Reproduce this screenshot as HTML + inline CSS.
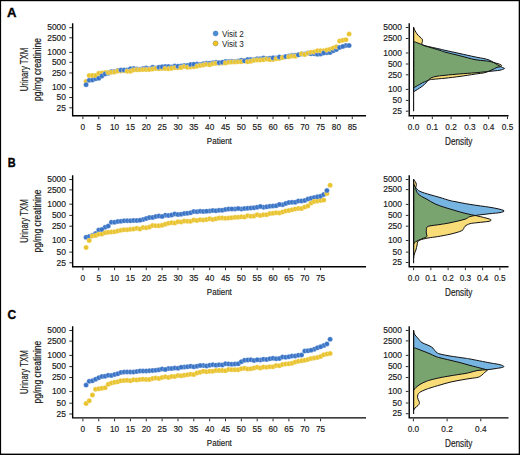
<!DOCTYPE html><html><head><meta charset="utf-8"><title>Urinary TXM</title><style>html,body{margin:0;padding:0;background:#fff;overflow:hidden}svg{display:block}</style></head><body>
<svg width="520" height="455" viewBox="0 0 520 455">
<rect x="0" y="0" width="520" height="455" fill="#fff"/>
<text transform="translate(7 16.6) scale(0.98 1)" style="font-family:'Liberation Sans', sans-serif;font-weight:bold;font-size:13.4px;fill:#000;stroke:#000;stroke-width:0.35">A</text>
<path d="M72.65 23.3 V115.7 H366" fill="none" stroke="#000" stroke-width="1.4"/>
<path d="M69.3 27.7H72 M69.3 37.8H72 M69.3 52.4H72 M69.3 62.3H72 M69.3 72.9H72 M69.3 87.6H72 M69.3 97.5H72 M69.3 107.8H72 M82.9 116.4V119.1 M98.75 116.4V119.1 M114.59 116.4V119.1 M130.44 116.4V119.1 M146.28 116.4V119.1 M162.12 116.4V119.1 M177.97 116.4V119.1 M193.81 116.4V119.1 M209.66 116.4V119.1 M225.5 116.4V119.1 M241.35 116.4V119.1 M257.2 116.4V119.1 M273.04 116.4V119.1 M288.88 116.4V119.1 M304.73 116.4V119.1 M320.58 116.4V119.1 M336.42 116.4V119.1 M352.26 116.4V119.1" stroke="#2a2a2a" stroke-width="1" fill="none"/>
<text transform="translate(66 30.45) scale(0.890 1)" text-anchor="end" style="font-family:'Liberation Sans', sans-serif;font-size:9.5px;fill:#1a1a1a;font-weight:normal;stroke:#1a1a1a;stroke-width:0.18px" >5000</text><text transform="translate(66 40.55) scale(0.890 1)" text-anchor="end" style="font-family:'Liberation Sans', sans-serif;font-size:9.5px;fill:#1a1a1a;font-weight:normal;stroke:#1a1a1a;stroke-width:0.18px" >2500</text><text transform="translate(66 55.15) scale(0.890 1)" text-anchor="end" style="font-family:'Liberation Sans', sans-serif;font-size:9.5px;fill:#1a1a1a;font-weight:normal;stroke:#1a1a1a;stroke-width:0.18px" >1000</text><text transform="translate(66 65.05) scale(0.890 1)" text-anchor="end" style="font-family:'Liberation Sans', sans-serif;font-size:9.5px;fill:#1a1a1a;font-weight:normal;stroke:#1a1a1a;stroke-width:0.18px" >500</text><text transform="translate(66 75.65) scale(0.890 1)" text-anchor="end" style="font-family:'Liberation Sans', sans-serif;font-size:9.5px;fill:#1a1a1a;font-weight:normal;stroke:#1a1a1a;stroke-width:0.18px" >250</text><text transform="translate(66 90.35) scale(0.890 1)" text-anchor="end" style="font-family:'Liberation Sans', sans-serif;font-size:9.5px;fill:#1a1a1a;font-weight:normal;stroke:#1a1a1a;stroke-width:0.18px" >100</text><text transform="translate(66 100.25) scale(0.890 1)" text-anchor="end" style="font-family:'Liberation Sans', sans-serif;font-size:9.5px;fill:#1a1a1a;font-weight:normal;stroke:#1a1a1a;stroke-width:0.18px" >50</text><text transform="translate(66 110.55) scale(0.890 1)" text-anchor="end" style="font-family:'Liberation Sans', sans-serif;font-size:9.5px;fill:#1a1a1a;font-weight:normal;stroke:#1a1a1a;stroke-width:0.18px" >25</text><text transform="translate(82.9 129.5) scale(0.870 1)" text-anchor="middle" style="font-family:'Liberation Sans', sans-serif;font-size:9.5px;fill:#1a1a1a;font-weight:normal;stroke:#1a1a1a;stroke-width:0.18px" >0</text><text transform="translate(98.75 129.5) scale(0.870 1)" text-anchor="middle" style="font-family:'Liberation Sans', sans-serif;font-size:9.5px;fill:#1a1a1a;font-weight:normal;stroke:#1a1a1a;stroke-width:0.18px" >5</text><text transform="translate(114.59 129.5) scale(0.870 1)" text-anchor="middle" style="font-family:'Liberation Sans', sans-serif;font-size:9.5px;fill:#1a1a1a;font-weight:normal;stroke:#1a1a1a;stroke-width:0.18px" >10</text><text transform="translate(130.44 129.5) scale(0.870 1)" text-anchor="middle" style="font-family:'Liberation Sans', sans-serif;font-size:9.5px;fill:#1a1a1a;font-weight:normal;stroke:#1a1a1a;stroke-width:0.18px" >15</text><text transform="translate(146.28 129.5) scale(0.870 1)" text-anchor="middle" style="font-family:'Liberation Sans', sans-serif;font-size:9.5px;fill:#1a1a1a;font-weight:normal;stroke:#1a1a1a;stroke-width:0.18px" >20</text><text transform="translate(162.12 129.5) scale(0.870 1)" text-anchor="middle" style="font-family:'Liberation Sans', sans-serif;font-size:9.5px;fill:#1a1a1a;font-weight:normal;stroke:#1a1a1a;stroke-width:0.18px" >25</text><text transform="translate(177.97 129.5) scale(0.870 1)" text-anchor="middle" style="font-family:'Liberation Sans', sans-serif;font-size:9.5px;fill:#1a1a1a;font-weight:normal;stroke:#1a1a1a;stroke-width:0.18px" >30</text><text transform="translate(193.81 129.5) scale(0.870 1)" text-anchor="middle" style="font-family:'Liberation Sans', sans-serif;font-size:9.5px;fill:#1a1a1a;font-weight:normal;stroke:#1a1a1a;stroke-width:0.18px" >35</text><text transform="translate(209.66 129.5) scale(0.870 1)" text-anchor="middle" style="font-family:'Liberation Sans', sans-serif;font-size:9.5px;fill:#1a1a1a;font-weight:normal;stroke:#1a1a1a;stroke-width:0.18px" >40</text><text transform="translate(225.5 129.5) scale(0.870 1)" text-anchor="middle" style="font-family:'Liberation Sans', sans-serif;font-size:9.5px;fill:#1a1a1a;font-weight:normal;stroke:#1a1a1a;stroke-width:0.18px" >45</text><text transform="translate(241.35 129.5) scale(0.870 1)" text-anchor="middle" style="font-family:'Liberation Sans', sans-serif;font-size:9.5px;fill:#1a1a1a;font-weight:normal;stroke:#1a1a1a;stroke-width:0.18px" >50</text><text transform="translate(257.2 129.5) scale(0.870 1)" text-anchor="middle" style="font-family:'Liberation Sans', sans-serif;font-size:9.5px;fill:#1a1a1a;font-weight:normal;stroke:#1a1a1a;stroke-width:0.18px" >55</text><text transform="translate(273.04 129.5) scale(0.870 1)" text-anchor="middle" style="font-family:'Liberation Sans', sans-serif;font-size:9.5px;fill:#1a1a1a;font-weight:normal;stroke:#1a1a1a;stroke-width:0.18px" >60</text><text transform="translate(288.88 129.5) scale(0.870 1)" text-anchor="middle" style="font-family:'Liberation Sans', sans-serif;font-size:9.5px;fill:#1a1a1a;font-weight:normal;stroke:#1a1a1a;stroke-width:0.18px" >65</text><text transform="translate(304.73 129.5) scale(0.870 1)" text-anchor="middle" style="font-family:'Liberation Sans', sans-serif;font-size:9.5px;fill:#1a1a1a;font-weight:normal;stroke:#1a1a1a;stroke-width:0.18px" >70</text><text transform="translate(320.58 129.5) scale(0.870 1)" text-anchor="middle" style="font-family:'Liberation Sans', sans-serif;font-size:9.5px;fill:#1a1a1a;font-weight:normal;stroke:#1a1a1a;stroke-width:0.18px" >75</text><text transform="translate(336.42 129.5) scale(0.870 1)" text-anchor="middle" style="font-family:'Liberation Sans', sans-serif;font-size:9.5px;fill:#1a1a1a;font-weight:normal;stroke:#1a1a1a;stroke-width:0.18px" >80</text><text transform="translate(352.26 129.5) scale(0.870 1)" text-anchor="middle" style="font-family:'Liberation Sans', sans-serif;font-size:9.5px;fill:#1a1a1a;font-weight:normal;stroke:#1a1a1a;stroke-width:0.18px" >85</text>
<text transform="translate(219.35 143.7) scale(0.810 1)" text-anchor="middle" style="font-family:'Liberation Sans', sans-serif;font-size:9.9px;fill:#1a1a1a;font-weight:normal;stroke:#1a1a1a;stroke-width:0.18px" >Patient</text>
<g transform="translate(28.2 69.5) rotate(-90)"><text transform="translate(0 0) scale(0.765 1)" text-anchor="middle" style="font-family:'Liberation Sans', sans-serif;font-size:10.2px;fill:#1a1a1a;font-weight:normal;stroke:#1a1a1a;stroke-width:0.18px" >Urinary TXM</text></g>
<g transform="translate(41.4 69.5) rotate(-90)"><text transform="translate(0 0) scale(0.835 1)" text-anchor="middle" style="font-family:'Liberation Sans', sans-serif;font-size:10.2px;fill:#1a1a1a;font-weight:normal;stroke:#1a1a1a;stroke-width:0.18px" >pg/mg creatinine</text></g>
<g stroke="#fff" stroke-opacity="0.5" stroke-width="0.5"><circle cx="86.07" cy="81.46" r="2.5" fill="#e9c32e"/><circle cx="86.07" cy="84.65" r="2.5" fill="#3a74c6"/><circle cx="89.24" cy="80.19" r="2.5" fill="#3a74c6"/><circle cx="89.24" cy="75.52" r="2.5" fill="#e9c32e"/><circle cx="92.41" cy="79.96" r="2.5" fill="#3a74c6"/><circle cx="92.41" cy="75.4" r="2.5" fill="#e9c32e"/><circle cx="95.58" cy="78.68" r="2.5" fill="#3a74c6"/><circle cx="95.58" cy="75.56" r="2.5" fill="#e9c32e"/><circle cx="98.75" cy="78.22" r="2.5" fill="#3a74c6"/><circle cx="98.75" cy="73.33" r="2.5" fill="#e9c32e"/><circle cx="101.91" cy="72.95" r="2.5" fill="#e9c32e"/><circle cx="101.91" cy="75.96" r="2.5" fill="#3a74c6"/><circle cx="105.08" cy="72.52" r="2.5" fill="#e9c32e"/><circle cx="105.08" cy="74.12" r="2.5" fill="#3a74c6"/><circle cx="108.25" cy="73.23" r="2.5" fill="#3a74c6"/><circle cx="108.25" cy="72.53" r="2.5" fill="#e9c32e"/><circle cx="111.42" cy="71.57" r="2.5" fill="#3a74c6"/><circle cx="111.42" cy="72.13" r="2.5" fill="#e9c32e"/><circle cx="114.59" cy="71.58" r="2.5" fill="#3a74c6"/><circle cx="114.59" cy="72" r="2.5" fill="#e9c32e"/><circle cx="117.76" cy="70.6" r="2.5" fill="#3a74c6"/><circle cx="117.76" cy="71.05" r="2.5" fill="#e9c32e"/><circle cx="120.93" cy="71.03" r="2.5" fill="#e9c32e"/><circle cx="120.93" cy="70.12" r="2.5" fill="#3a74c6"/><circle cx="124.1" cy="70.77" r="2.5" fill="#e9c32e"/><circle cx="124.1" cy="70.05" r="2.5" fill="#3a74c6"/><circle cx="127.27" cy="70.06" r="2.5" fill="#3a74c6"/><circle cx="127.27" cy="71.26" r="2.5" fill="#e9c32e"/><circle cx="130.44" cy="68.68" r="2.5" fill="#3a74c6"/><circle cx="130.44" cy="71.17" r="2.5" fill="#e9c32e"/><circle cx="133.6" cy="68.62" r="2.5" fill="#3a74c6"/><circle cx="133.6" cy="69.93" r="2.5" fill="#e9c32e"/><circle cx="136.77" cy="68.96" r="2.5" fill="#3a74c6"/><circle cx="136.77" cy="69.77" r="2.5" fill="#e9c32e"/><circle cx="139.94" cy="69.19" r="2.5" fill="#3a74c6"/><circle cx="139.94" cy="69.66" r="2.5" fill="#e9c32e"/><circle cx="143.11" cy="68.51" r="2.5" fill="#3a74c6"/><circle cx="143.11" cy="69.47" r="2.5" fill="#e9c32e"/><circle cx="146.28" cy="68.09" r="2.5" fill="#3a74c6"/><circle cx="146.28" cy="69.6" r="2.5" fill="#e9c32e"/><circle cx="149.45" cy="68.65" r="2.5" fill="#3a74c6"/><circle cx="149.45" cy="69.55" r="2.5" fill="#e9c32e"/><circle cx="152.62" cy="67.25" r="2.5" fill="#3a74c6"/><circle cx="152.62" cy="68.93" r="2.5" fill="#e9c32e"/><circle cx="155.79" cy="68.12" r="2.5" fill="#3a74c6"/><circle cx="155.79" cy="68.41" r="2.5" fill="#e9c32e"/><circle cx="158.96" cy="68.76" r="2.5" fill="#e9c32e"/><circle cx="158.96" cy="67.19" r="2.5" fill="#3a74c6"/><circle cx="162.12" cy="68.47" r="2.5" fill="#e9c32e"/><circle cx="162.12" cy="66.78" r="2.5" fill="#3a74c6"/><circle cx="165.29" cy="66.51" r="2.5" fill="#3a74c6"/><circle cx="165.29" cy="68.5" r="2.5" fill="#e9c32e"/><circle cx="168.46" cy="66.53" r="2.5" fill="#3a74c6"/><circle cx="168.46" cy="68.77" r="2.5" fill="#e9c32e"/><circle cx="171.63" cy="66.96" r="2.5" fill="#3a74c6"/><circle cx="171.63" cy="68.19" r="2.5" fill="#e9c32e"/><circle cx="174.8" cy="65.9" r="2.5" fill="#3a74c6"/><circle cx="174.8" cy="67.73" r="2.5" fill="#e9c32e"/><circle cx="177.97" cy="67.64" r="2.5" fill="#e9c32e"/><circle cx="177.97" cy="66.19" r="2.5" fill="#3a74c6"/><circle cx="181.14" cy="66.03" r="2.5" fill="#3a74c6"/><circle cx="181.14" cy="67.48" r="2.5" fill="#e9c32e"/><circle cx="184.31" cy="65.45" r="2.5" fill="#3a74c6"/><circle cx="184.31" cy="66.44" r="2.5" fill="#e9c32e"/><circle cx="187.48" cy="65.45" r="2.5" fill="#3a74c6"/><circle cx="187.48" cy="67.3" r="2.5" fill="#e9c32e"/><circle cx="190.65" cy="66.9" r="2.5" fill="#e9c32e"/><circle cx="190.65" cy="64.56" r="2.5" fill="#3a74c6"/><circle cx="193.81" cy="66.69" r="2.5" fill="#e9c32e"/><circle cx="196.98" cy="64.09" r="2.5" fill="#3a74c6"/><circle cx="193.81" cy="64.23" r="2.5" fill="#3a74c6"/><circle cx="196.98" cy="66.26" r="2.5" fill="#e9c32e"/><circle cx="200.15" cy="64.38" r="2.5" fill="#3a74c6"/><circle cx="200.15" cy="65.4" r="2.5" fill="#e9c32e"/><circle cx="203.32" cy="63.72" r="2.5" fill="#3a74c6"/><circle cx="203.32" cy="65.08" r="2.5" fill="#e9c32e"/><circle cx="206.49" cy="63.24" r="2.5" fill="#3a74c6"/><circle cx="206.49" cy="64.37" r="2.5" fill="#e9c32e"/><circle cx="209.66" cy="63.27" r="2.5" fill="#3a74c6"/><circle cx="209.66" cy="64.73" r="2.5" fill="#e9c32e"/><circle cx="212.83" cy="62.76" r="2.5" fill="#3a74c6"/><circle cx="212.83" cy="63.66" r="2.5" fill="#e9c32e"/><circle cx="216" cy="62.26" r="2.5" fill="#3a74c6"/><circle cx="216" cy="63.36" r="2.5" fill="#e9c32e"/><circle cx="219.17" cy="63.29" r="2.5" fill="#e9c32e"/><circle cx="219.17" cy="62.65" r="2.5" fill="#3a74c6"/><circle cx="222.34" cy="62.97" r="2.5" fill="#e9c32e"/><circle cx="225.5" cy="61.43" r="2.5" fill="#3a74c6"/><circle cx="222.34" cy="62.27" r="2.5" fill="#3a74c6"/><circle cx="225.5" cy="62.95" r="2.5" fill="#e9c32e"/><circle cx="228.67" cy="61.6" r="2.5" fill="#3a74c6"/><circle cx="228.67" cy="62.32" r="2.5" fill="#e9c32e"/><circle cx="231.84" cy="61.29" r="2.5" fill="#3a74c6"/><circle cx="231.84" cy="62" r="2.5" fill="#e9c32e"/><circle cx="235.01" cy="61.49" r="2.5" fill="#3a74c6"/><circle cx="235.01" cy="61.95" r="2.5" fill="#e9c32e"/><circle cx="238.18" cy="61.04" r="2.5" fill="#3a74c6"/><circle cx="238.18" cy="61.63" r="2.5" fill="#e9c32e"/><circle cx="241.35" cy="60.22" r="2.5" fill="#3a74c6"/><circle cx="241.35" cy="61.71" r="2.5" fill="#e9c32e"/><circle cx="244.52" cy="61.02" r="2.5" fill="#e9c32e"/><circle cx="244.52" cy="60.86" r="2.5" fill="#3a74c6"/><circle cx="247.69" cy="59.47" r="2.5" fill="#3a74c6"/><circle cx="247.69" cy="61.83" r="2.5" fill="#e9c32e"/><circle cx="250.86" cy="59.58" r="2.5" fill="#3a74c6"/><circle cx="250.86" cy="61.19" r="2.5" fill="#e9c32e"/><circle cx="254.03" cy="59.74" r="2.5" fill="#3a74c6"/><circle cx="254.03" cy="60.28" r="2.5" fill="#e9c32e"/><circle cx="257.2" cy="58.67" r="2.5" fill="#3a74c6"/><circle cx="257.2" cy="60.11" r="2.5" fill="#e9c32e"/><circle cx="260.36" cy="58.83" r="2.5" fill="#3a74c6"/><circle cx="260.36" cy="59.93" r="2.5" fill="#e9c32e"/><circle cx="263.53" cy="57.97" r="2.5" fill="#3a74c6"/><circle cx="263.53" cy="59.64" r="2.5" fill="#e9c32e"/><circle cx="266.7" cy="58.51" r="2.5" fill="#3a74c6"/><circle cx="266.7" cy="59.03" r="2.5" fill="#e9c32e"/><circle cx="269.87" cy="58.36" r="2.5" fill="#3a74c6"/><circle cx="269.87" cy="59.67" r="2.5" fill="#e9c32e"/><circle cx="273.04" cy="59.59" r="2.5" fill="#e9c32e"/><circle cx="276.21" cy="57.97" r="2.5" fill="#3a74c6"/><circle cx="273.04" cy="57.84" r="2.5" fill="#3a74c6"/><circle cx="276.21" cy="58.64" r="2.5" fill="#e9c32e"/><circle cx="279.38" cy="58.4" r="2.5" fill="#e9c32e"/><circle cx="282.55" cy="57.16" r="2.5" fill="#3a74c6"/><circle cx="279.38" cy="56.98" r="2.5" fill="#3a74c6"/><circle cx="282.55" cy="57.56" r="2.5" fill="#e9c32e"/><circle cx="285.72" cy="56.98" r="2.5" fill="#e9c32e"/><circle cx="285.72" cy="56.5" r="2.5" fill="#3a74c6"/><circle cx="288.88" cy="55.96" r="2.5" fill="#3a74c6"/><circle cx="288.88" cy="56.69" r="2.5" fill="#e9c32e"/><circle cx="292.05" cy="55.27" r="2.5" fill="#3a74c6"/><circle cx="292.05" cy="56" r="2.5" fill="#e9c32e"/><circle cx="295.22" cy="55.24" r="2.5" fill="#3a74c6"/><circle cx="295.22" cy="56.13" r="2.5" fill="#e9c32e"/><circle cx="298.39" cy="54.66" r="2.5" fill="#e9c32e"/><circle cx="298.39" cy="54.85" r="2.5" fill="#3a74c6"/><circle cx="301.56" cy="53.9" r="2.5" fill="#3a74c6"/><circle cx="301.56" cy="53.87" r="2.5" fill="#e9c32e"/><circle cx="304.73" cy="54.02" r="2.5" fill="#3a74c6"/><circle cx="304.73" cy="54.44" r="2.5" fill="#e9c32e"/><circle cx="307.9" cy="53.11" r="2.5" fill="#3a74c6"/><circle cx="307.9" cy="53.26" r="2.5" fill="#e9c32e"/><circle cx="311.07" cy="53.85" r="2.5" fill="#3a74c6"/><circle cx="311.07" cy="52.13" r="2.5" fill="#e9c32e"/><circle cx="314.24" cy="53.76" r="2.5" fill="#3a74c6"/><circle cx="314.24" cy="52.01" r="2.5" fill="#e9c32e"/><circle cx="317.41" cy="54.18" r="2.5" fill="#3a74c6"/><circle cx="317.41" cy="50.7" r="2.5" fill="#e9c32e"/><circle cx="320.58" cy="53.93" r="2.5" fill="#3a74c6"/><circle cx="320.58" cy="50.72" r="2.5" fill="#e9c32e"/><circle cx="323.74" cy="50.74" r="2.5" fill="#e9c32e"/><circle cx="326.91" cy="52.68" r="2.5" fill="#3a74c6"/><circle cx="323.74" cy="52.98" r="2.5" fill="#3a74c6"/><circle cx="326.91" cy="50.07" r="2.5" fill="#e9c32e"/><circle cx="330.08" cy="52.59" r="2.5" fill="#3a74c6"/><circle cx="330.08" cy="49.33" r="2.5" fill="#e9c32e"/><circle cx="333.25" cy="50.74" r="2.5" fill="#3a74c6"/><circle cx="333.25" cy="47.94" r="2.5" fill="#e9c32e"/><circle cx="336.42" cy="49.61" r="2.5" fill="#3a74c6"/><circle cx="336.42" cy="46.74" r="2.5" fill="#e9c32e"/><circle cx="339.59" cy="47.49" r="2.5" fill="#3a74c6"/><circle cx="339.59" cy="41.02" r="2.5" fill="#e9c32e"/><circle cx="342.76" cy="40.35" r="2.5" fill="#e9c32e"/><circle cx="345.93" cy="45.38" r="2.5" fill="#3a74c6"/><circle cx="342.76" cy="46.51" r="2.5" fill="#3a74c6"/><circle cx="345.93" cy="39.66" r="2.5" fill="#e9c32e"/><circle cx="349.1" cy="34.12" r="2.5" fill="#e9c32e"/><circle cx="349.1" cy="45.52" r="2.5" fill="#3a74c6"/></g>
<path d="M409.2 23.3 V115.7 H508.5" fill="none" stroke="#000" stroke-width="1.4"/>
<path d="M405.8 27.5H408.5 M405.8 38.5H408.5 M405.8 53H408.5 M405.8 64H408.5 M405.8 74.8H408.5 M405.8 89.4H408.5 M405.8 100.4H408.5 M405.8 111.2H408.5 M413.5 116.4V119.1 M432.3 116.4V119.1 M451.1 116.4V119.1 M469.9 116.4V119.1 M488.7 116.4V119.1 M507.5 116.4V119.1" stroke="#2a2a2a" stroke-width="1" fill="none"/>
<text transform="translate(402 30.25) scale(0.890 1)" text-anchor="end" style="font-family:'Liberation Sans', sans-serif;font-size:9.5px;fill:#1a1a1a;font-weight:normal;stroke:#1a1a1a;stroke-width:0.18px" >5000</text><text transform="translate(402 41.25) scale(0.890 1)" text-anchor="end" style="font-family:'Liberation Sans', sans-serif;font-size:9.5px;fill:#1a1a1a;font-weight:normal;stroke:#1a1a1a;stroke-width:0.18px" >2500</text><text transform="translate(402 55.75) scale(0.890 1)" text-anchor="end" style="font-family:'Liberation Sans', sans-serif;font-size:9.5px;fill:#1a1a1a;font-weight:normal;stroke:#1a1a1a;stroke-width:0.18px" >1000</text><text transform="translate(402 66.75) scale(0.890 1)" text-anchor="end" style="font-family:'Liberation Sans', sans-serif;font-size:9.5px;fill:#1a1a1a;font-weight:normal;stroke:#1a1a1a;stroke-width:0.18px" >500</text><text transform="translate(402 77.55) scale(0.890 1)" text-anchor="end" style="font-family:'Liberation Sans', sans-serif;font-size:9.5px;fill:#1a1a1a;font-weight:normal;stroke:#1a1a1a;stroke-width:0.18px" >250</text><text transform="translate(402 92.15) scale(0.890 1)" text-anchor="end" style="font-family:'Liberation Sans', sans-serif;font-size:9.5px;fill:#1a1a1a;font-weight:normal;stroke:#1a1a1a;stroke-width:0.18px" >100</text><text transform="translate(402 103.15) scale(0.890 1)" text-anchor="end" style="font-family:'Liberation Sans', sans-serif;font-size:9.5px;fill:#1a1a1a;font-weight:normal;stroke:#1a1a1a;stroke-width:0.18px" >50</text><text transform="translate(402 113.95) scale(0.890 1)" text-anchor="end" style="font-family:'Liberation Sans', sans-serif;font-size:9.5px;fill:#1a1a1a;font-weight:normal;stroke:#1a1a1a;stroke-width:0.18px" >25</text><text transform="translate(413.5 129.5) scale(0.870 1)" text-anchor="middle" style="font-family:'Liberation Sans', sans-serif;font-size:9.5px;fill:#1a1a1a;font-weight:normal;stroke:#1a1a1a;stroke-width:0.18px" >0.0</text><text transform="translate(432.3 129.5) scale(0.870 1)" text-anchor="middle" style="font-family:'Liberation Sans', sans-serif;font-size:9.5px;fill:#1a1a1a;font-weight:normal;stroke:#1a1a1a;stroke-width:0.18px" >0.1</text><text transform="translate(451.1 129.5) scale(0.870 1)" text-anchor="middle" style="font-family:'Liberation Sans', sans-serif;font-size:9.5px;fill:#1a1a1a;font-weight:normal;stroke:#1a1a1a;stroke-width:0.18px" >0.2</text><text transform="translate(469.9 129.5) scale(0.870 1)" text-anchor="middle" style="font-family:'Liberation Sans', sans-serif;font-size:9.5px;fill:#1a1a1a;font-weight:normal;stroke:#1a1a1a;stroke-width:0.18px" >0.3</text><text transform="translate(488.7 129.5) scale(0.870 1)" text-anchor="middle" style="font-family:'Liberation Sans', sans-serif;font-size:9.5px;fill:#1a1a1a;font-weight:normal;stroke:#1a1a1a;stroke-width:0.18px" >0.4</text><text transform="translate(507.5 129.5) scale(0.870 1)" text-anchor="middle" style="font-family:'Liberation Sans', sans-serif;font-size:9.5px;fill:#1a1a1a;font-weight:normal;stroke:#1a1a1a;stroke-width:0.18px" >0.5</text>
<text transform="translate(458.75 144.7) scale(0.820 1)" text-anchor="middle" style="font-family:'Liberation Sans', sans-serif;font-size:10px;fill:#1a1a1a;font-weight:normal;stroke:#1a1a1a;stroke-width:0.18px" >Density</text>
<defs><clipPath id="cbA"><path d="M413.6 41.4 L413.6 41.4 C414.33 41.68 416.68 42.6 418 43.1 C419.32 43.6 420.33 43.95 421.5 44.4 C422.67 44.85 423.58 45.38 425 45.8 C426.42 46.22 427.5 46.35 430 46.9 C432.5 47.45 437.5 48.53 440 49.1 C442.5 49.67 441.67 49.55 445 50.3 C448.33 51.05 455 52.5 460 53.6 C465 54.7 470.83 56.03 475 56.9 C479.17 57.77 482.5 58.22 485 58.8 C487.5 59.38 488.83 59.95 490 60.4 C491.17 60.85 491.25 61.07 492 61.5 C492.75 61.93 493.58 62.45 494.5 63 C495.42 63.55 496.5 64.23 497.5 64.8 C498.5 65.37 499.67 65.95 500.5 66.4 C501.33 66.85 501.83 67.13 502.5 67.5 C503.17 67.87 504.92 68.15 504.5 68.6 C504.08 69.05 501.58 69.83 500 70.2 C498.42 70.57 496.67 70.62 495 70.8 C493.33 70.98 491.67 71.13 490 71.3 C488.33 71.47 487.5 71.55 485 71.8 C482.5 72.05 479.17 72.45 475 72.8 C470.83 73.15 465 73.48 460 73.9 C455 74.32 449.17 74.85 445 75.3 C440.83 75.75 437.5 76.05 435 76.6 C432.5 77.15 431.25 77.87 430 78.6 C428.75 79.33 428.18 80.27 427.5 81 C426.82 81.73 426.72 82.17 425.9 83 C425.08 83.83 423.7 85.12 422.6 86 C421.5 86.88 420.4 87.58 419.3 88.3 C418.2 89.02 416.95 89.68 416 90.3 C415.05 90.92 414 91.72 413.6 92 L413.6 92 Z"/></clipPath></defs>
<path d="M413.6 27.3 L413.6 27.3 C413.83 27.85 414.43 29.5 415 30.6 C415.57 31.7 416.33 32.97 417 33.9 C417.67 34.83 418.33 35.55 419 36.2 C419.67 36.85 420.42 37.2 421 37.8 C421.58 38.4 422.28 39.13 422.5 39.8 C422.72 40.47 422.42 41.13 422.3 41.8 C422.18 42.47 421.77 43.28 421.8 43.8 C421.83 44.32 421.13 44.3 422.5 44.9 C423.87 45.5 427.08 46.48 430 47.4 C432.92 48.32 437.5 49.62 440 50.4 C442.5 51.18 441.67 51.2 445 52.1 C448.33 53 455 54.55 460 55.8 C465 57.05 470.83 58.77 475 59.6 C479.17 60.43 482.5 60.48 485 60.8 C487.5 61.12 488.5 61.2 490 61.5 C491.5 61.8 492.67 62.23 494 62.6 C495.33 62.97 496.83 63.32 498 63.7 C499.17 64.08 500.4 64.55 501 64.9 C501.6 65.25 501.68 65.5 501.6 65.8 C501.52 66.1 501.27 66.43 500.5 66.7 C499.73 66.97 498.42 66.88 497 67.4 C495.58 67.92 494 68.93 492 69.8 C490 70.67 487.83 71.88 485 72.6 C482.17 73.32 479.17 73.47 475 74.1 C470.83 74.73 465 75.72 460 76.4 C455 77.08 449.5 77.72 445 78.2 C440.5 78.68 435.5 79.05 433 79.3 C430.5 79.55 431 79.45 430 79.7 C429 79.95 427.68 80.53 427 80.8 C426.32 81.07 426.63 80.98 425.9 81.3 C425.17 81.62 423.7 82.15 422.6 82.7 C421.5 83.25 420.4 83.98 419.3 84.6 C418.2 85.22 416.95 85.82 416 86.4 C415.05 86.98 414 87.82 413.6 88.1 L413.6 88.1 Z" fill="#f8dc78"/>
<path d="M413.6 41.4 L413.6 41.4 C414.33 41.68 416.68 42.6 418 43.1 C419.32 43.6 420.33 43.95 421.5 44.4 C422.67 44.85 423.58 45.38 425 45.8 C426.42 46.22 427.5 46.35 430 46.9 C432.5 47.45 437.5 48.53 440 49.1 C442.5 49.67 441.67 49.55 445 50.3 C448.33 51.05 455 52.5 460 53.6 C465 54.7 470.83 56.03 475 56.9 C479.17 57.77 482.5 58.22 485 58.8 C487.5 59.38 488.83 59.95 490 60.4 C491.17 60.85 491.25 61.07 492 61.5 C492.75 61.93 493.58 62.45 494.5 63 C495.42 63.55 496.5 64.23 497.5 64.8 C498.5 65.37 499.67 65.95 500.5 66.4 C501.33 66.85 501.83 67.13 502.5 67.5 C503.17 67.87 504.92 68.15 504.5 68.6 C504.08 69.05 501.58 69.83 500 70.2 C498.42 70.57 496.67 70.62 495 70.8 C493.33 70.98 491.67 71.13 490 71.3 C488.33 71.47 487.5 71.55 485 71.8 C482.5 72.05 479.17 72.45 475 72.8 C470.83 73.15 465 73.48 460 73.9 C455 74.32 449.17 74.85 445 75.3 C440.83 75.75 437.5 76.05 435 76.6 C432.5 77.15 431.25 77.87 430 78.6 C428.75 79.33 428.18 80.27 427.5 81 C426.82 81.73 426.72 82.17 425.9 83 C425.08 83.83 423.7 85.12 422.6 86 C421.5 86.88 420.4 87.58 419.3 88.3 C418.2 89.02 416.95 89.68 416 90.3 C415.05 90.92 414 91.72 413.6 92 L413.6 92 Z" fill="#76b4e2"/>
<path d="M413.6 27.3 L413.6 27.3 C413.83 27.85 414.43 29.5 415 30.6 C415.57 31.7 416.33 32.97 417 33.9 C417.67 34.83 418.33 35.55 419 36.2 C419.67 36.85 420.42 37.2 421 37.8 C421.58 38.4 422.28 39.13 422.5 39.8 C422.72 40.47 422.42 41.13 422.3 41.8 C422.18 42.47 421.77 43.28 421.8 43.8 C421.83 44.32 421.13 44.3 422.5 44.9 C423.87 45.5 427.08 46.48 430 47.4 C432.92 48.32 437.5 49.62 440 50.4 C442.5 51.18 441.67 51.2 445 52.1 C448.33 53 455 54.55 460 55.8 C465 57.05 470.83 58.77 475 59.6 C479.17 60.43 482.5 60.48 485 60.8 C487.5 61.12 488.5 61.2 490 61.5 C491.5 61.8 492.67 62.23 494 62.6 C495.33 62.97 496.83 63.32 498 63.7 C499.17 64.08 500.4 64.55 501 64.9 C501.6 65.25 501.68 65.5 501.6 65.8 C501.52 66.1 501.27 66.43 500.5 66.7 C499.73 66.97 498.42 66.88 497 67.4 C495.58 67.92 494 68.93 492 69.8 C490 70.67 487.83 71.88 485 72.6 C482.17 73.32 479.17 73.47 475 74.1 C470.83 74.73 465 75.72 460 76.4 C455 77.08 449.5 77.72 445 78.2 C440.5 78.68 435.5 79.05 433 79.3 C430.5 79.55 431 79.45 430 79.7 C429 79.95 427.68 80.53 427 80.8 C426.32 81.07 426.63 80.98 425.9 81.3 C425.17 81.62 423.7 82.15 422.6 82.7 C421.5 83.25 420.4 83.98 419.3 84.6 C418.2 85.22 416.95 85.82 416 86.4 C415.05 86.98 414 87.82 413.6 88.1 L413.6 88.1 Z" fill="#79a46f" clip-path="url(#cbA)"/>
<path d="M413.6 27.3 L413.6 27.3 C413.83 27.85 414.43 29.5 415 30.6 C415.57 31.7 416.33 32.97 417 33.9 C417.67 34.83 418.33 35.55 419 36.2 C419.67 36.85 420.42 37.2 421 37.8 C421.58 38.4 422.28 39.13 422.5 39.8 C422.72 40.47 422.42 41.13 422.3 41.8 C422.18 42.47 421.77 43.28 421.8 43.8 C421.83 44.32 421.13 44.3 422.5 44.9 C423.87 45.5 427.08 46.48 430 47.4 C432.92 48.32 437.5 49.62 440 50.4 C442.5 51.18 441.67 51.2 445 52.1 C448.33 53 455 54.55 460 55.8 C465 57.05 470.83 58.77 475 59.6 C479.17 60.43 482.5 60.48 485 60.8 C487.5 61.12 488.5 61.2 490 61.5 C491.5 61.8 492.67 62.23 494 62.6 C495.33 62.97 496.83 63.32 498 63.7 C499.17 64.08 500.4 64.55 501 64.9 C501.6 65.25 501.68 65.5 501.6 65.8 C501.52 66.1 501.27 66.43 500.5 66.7 C499.73 66.97 498.42 66.88 497 67.4 C495.58 67.92 494 68.93 492 69.8 C490 70.67 487.83 71.88 485 72.6 C482.17 73.32 479.17 73.47 475 74.1 C470.83 74.73 465 75.72 460 76.4 C455 77.08 449.5 77.72 445 78.2 C440.5 78.68 435.5 79.05 433 79.3 C430.5 79.55 431 79.45 430 79.7 C429 79.95 427.68 80.53 427 80.8 C426.32 81.07 426.63 80.98 425.9 81.3 C425.17 81.62 423.7 82.15 422.6 82.7 C421.5 83.25 420.4 83.98 419.3 84.6 C418.2 85.22 416.95 85.82 416 86.4 C415.05 86.98 414 87.82 413.6 88.1 L413.6 88.1 Z" fill="none" stroke="#111" stroke-width="1" stroke-linejoin="round"/>
<path d="M413.6 41.4 L413.6 41.4 C414.33 41.68 416.68 42.6 418 43.1 C419.32 43.6 420.33 43.95 421.5 44.4 C422.67 44.85 423.58 45.38 425 45.8 C426.42 46.22 427.5 46.35 430 46.9 C432.5 47.45 437.5 48.53 440 49.1 C442.5 49.67 441.67 49.55 445 50.3 C448.33 51.05 455 52.5 460 53.6 C465 54.7 470.83 56.03 475 56.9 C479.17 57.77 482.5 58.22 485 58.8 C487.5 59.38 488.83 59.95 490 60.4 C491.17 60.85 491.25 61.07 492 61.5 C492.75 61.93 493.58 62.45 494.5 63 C495.42 63.55 496.5 64.23 497.5 64.8 C498.5 65.37 499.67 65.95 500.5 66.4 C501.33 66.85 501.83 67.13 502.5 67.5 C503.17 67.87 504.92 68.15 504.5 68.6 C504.08 69.05 501.58 69.83 500 70.2 C498.42 70.57 496.67 70.62 495 70.8 C493.33 70.98 491.67 71.13 490 71.3 C488.33 71.47 487.5 71.55 485 71.8 C482.5 72.05 479.17 72.45 475 72.8 C470.83 73.15 465 73.48 460 73.9 C455 74.32 449.17 74.85 445 75.3 C440.83 75.75 437.5 76.05 435 76.6 C432.5 77.15 431.25 77.87 430 78.6 C428.75 79.33 428.18 80.27 427.5 81 C426.82 81.73 426.72 82.17 425.9 83 C425.08 83.83 423.7 85.12 422.6 86 C421.5 86.88 420.4 87.58 419.3 88.3 C418.2 89.02 416.95 89.68 416 90.3 C415.05 90.92 414 91.72 413.6 92 L413.6 92 Z" fill="none" stroke="#111" stroke-width="1" stroke-linejoin="round"/>
<path d="M413.6 27.3 V111.2" stroke="#111" stroke-width="1.1"/>
<text transform="translate(7.8 167.4) scale(0.82 1)" style="font-family:'Liberation Sans', sans-serif;font-weight:bold;font-size:13.4px;fill:#000;stroke:#000;stroke-width:0.35">B</text>
<path d="M72.65 175.3 V266.8 H366" fill="none" stroke="#000" stroke-width="1.4"/>
<path d="M69.3 179.5H72 M69.3 189.9H72 M69.3 204.2H72 M69.3 215.4H72 M69.3 226.2H72 M69.3 240.5H72 M69.3 252.1H72 M69.3 262.8H72 M82.9 267.5V270.2 M98.75 267.5V270.2 M114.59 267.5V270.2 M130.44 267.5V270.2 M146.28 267.5V270.2 M162.12 267.5V270.2 M177.97 267.5V270.2 M193.81 267.5V270.2 M209.66 267.5V270.2 M225.5 267.5V270.2 M241.35 267.5V270.2 M257.2 267.5V270.2 M273.04 267.5V270.2 M288.88 267.5V270.2 M304.73 267.5V270.2 M320.58 267.5V270.2" stroke="#2a2a2a" stroke-width="1" fill="none"/>
<text transform="translate(66 182.25) scale(0.890 1)" text-anchor="end" style="font-family:'Liberation Sans', sans-serif;font-size:9.5px;fill:#1a1a1a;font-weight:normal;stroke:#1a1a1a;stroke-width:0.18px" >5000</text><text transform="translate(66 192.65) scale(0.890 1)" text-anchor="end" style="font-family:'Liberation Sans', sans-serif;font-size:9.5px;fill:#1a1a1a;font-weight:normal;stroke:#1a1a1a;stroke-width:0.18px" >2500</text><text transform="translate(66 206.95) scale(0.890 1)" text-anchor="end" style="font-family:'Liberation Sans', sans-serif;font-size:9.5px;fill:#1a1a1a;font-weight:normal;stroke:#1a1a1a;stroke-width:0.18px" >1000</text><text transform="translate(66 218.15) scale(0.890 1)" text-anchor="end" style="font-family:'Liberation Sans', sans-serif;font-size:9.5px;fill:#1a1a1a;font-weight:normal;stroke:#1a1a1a;stroke-width:0.18px" >500</text><text transform="translate(66 228.95) scale(0.890 1)" text-anchor="end" style="font-family:'Liberation Sans', sans-serif;font-size:9.5px;fill:#1a1a1a;font-weight:normal;stroke:#1a1a1a;stroke-width:0.18px" >250</text><text transform="translate(66 243.25) scale(0.890 1)" text-anchor="end" style="font-family:'Liberation Sans', sans-serif;font-size:9.5px;fill:#1a1a1a;font-weight:normal;stroke:#1a1a1a;stroke-width:0.18px" >100</text><text transform="translate(66 254.85) scale(0.890 1)" text-anchor="end" style="font-family:'Liberation Sans', sans-serif;font-size:9.5px;fill:#1a1a1a;font-weight:normal;stroke:#1a1a1a;stroke-width:0.18px" >50</text><text transform="translate(66 265.55) scale(0.890 1)" text-anchor="end" style="font-family:'Liberation Sans', sans-serif;font-size:9.5px;fill:#1a1a1a;font-weight:normal;stroke:#1a1a1a;stroke-width:0.18px" >25</text><text transform="translate(82.9 280.6) scale(0.870 1)" text-anchor="middle" style="font-family:'Liberation Sans', sans-serif;font-size:9.5px;fill:#1a1a1a;font-weight:normal;stroke:#1a1a1a;stroke-width:0.18px" >0</text><text transform="translate(98.75 280.6) scale(0.870 1)" text-anchor="middle" style="font-family:'Liberation Sans', sans-serif;font-size:9.5px;fill:#1a1a1a;font-weight:normal;stroke:#1a1a1a;stroke-width:0.18px" >5</text><text transform="translate(114.59 280.6) scale(0.870 1)" text-anchor="middle" style="font-family:'Liberation Sans', sans-serif;font-size:9.5px;fill:#1a1a1a;font-weight:normal;stroke:#1a1a1a;stroke-width:0.18px" >10</text><text transform="translate(130.44 280.6) scale(0.870 1)" text-anchor="middle" style="font-family:'Liberation Sans', sans-serif;font-size:9.5px;fill:#1a1a1a;font-weight:normal;stroke:#1a1a1a;stroke-width:0.18px" >15</text><text transform="translate(146.28 280.6) scale(0.870 1)" text-anchor="middle" style="font-family:'Liberation Sans', sans-serif;font-size:9.5px;fill:#1a1a1a;font-weight:normal;stroke:#1a1a1a;stroke-width:0.18px" >20</text><text transform="translate(162.12 280.6) scale(0.870 1)" text-anchor="middle" style="font-family:'Liberation Sans', sans-serif;font-size:9.5px;fill:#1a1a1a;font-weight:normal;stroke:#1a1a1a;stroke-width:0.18px" >25</text><text transform="translate(177.97 280.6) scale(0.870 1)" text-anchor="middle" style="font-family:'Liberation Sans', sans-serif;font-size:9.5px;fill:#1a1a1a;font-weight:normal;stroke:#1a1a1a;stroke-width:0.18px" >30</text><text transform="translate(193.81 280.6) scale(0.870 1)" text-anchor="middle" style="font-family:'Liberation Sans', sans-serif;font-size:9.5px;fill:#1a1a1a;font-weight:normal;stroke:#1a1a1a;stroke-width:0.18px" >35</text><text transform="translate(209.66 280.6) scale(0.870 1)" text-anchor="middle" style="font-family:'Liberation Sans', sans-serif;font-size:9.5px;fill:#1a1a1a;font-weight:normal;stroke:#1a1a1a;stroke-width:0.18px" >40</text><text transform="translate(225.5 280.6) scale(0.870 1)" text-anchor="middle" style="font-family:'Liberation Sans', sans-serif;font-size:9.5px;fill:#1a1a1a;font-weight:normal;stroke:#1a1a1a;stroke-width:0.18px" >45</text><text transform="translate(241.35 280.6) scale(0.870 1)" text-anchor="middle" style="font-family:'Liberation Sans', sans-serif;font-size:9.5px;fill:#1a1a1a;font-weight:normal;stroke:#1a1a1a;stroke-width:0.18px" >50</text><text transform="translate(257.2 280.6) scale(0.870 1)" text-anchor="middle" style="font-family:'Liberation Sans', sans-serif;font-size:9.5px;fill:#1a1a1a;font-weight:normal;stroke:#1a1a1a;stroke-width:0.18px" >55</text><text transform="translate(273.04 280.6) scale(0.870 1)" text-anchor="middle" style="font-family:'Liberation Sans', sans-serif;font-size:9.5px;fill:#1a1a1a;font-weight:normal;stroke:#1a1a1a;stroke-width:0.18px" >60</text><text transform="translate(288.88 280.6) scale(0.870 1)" text-anchor="middle" style="font-family:'Liberation Sans', sans-serif;font-size:9.5px;fill:#1a1a1a;font-weight:normal;stroke:#1a1a1a;stroke-width:0.18px" >65</text><text transform="translate(304.73 280.6) scale(0.870 1)" text-anchor="middle" style="font-family:'Liberation Sans', sans-serif;font-size:9.5px;fill:#1a1a1a;font-weight:normal;stroke:#1a1a1a;stroke-width:0.18px" >70</text><text transform="translate(320.58 280.6) scale(0.870 1)" text-anchor="middle" style="font-family:'Liberation Sans', sans-serif;font-size:9.5px;fill:#1a1a1a;font-weight:normal;stroke:#1a1a1a;stroke-width:0.18px" >75</text>
<text transform="translate(219.35 294.8) scale(0.810 1)" text-anchor="middle" style="font-family:'Liberation Sans', sans-serif;font-size:9.9px;fill:#1a1a1a;font-weight:normal;stroke:#1a1a1a;stroke-width:0.18px" >Patient</text>
<g transform="translate(28.2 221.05) rotate(-90)"><text transform="translate(0 0) scale(0.765 1)" text-anchor="middle" style="font-family:'Liberation Sans', sans-serif;font-size:10.2px;fill:#1a1a1a;font-weight:normal;stroke:#1a1a1a;stroke-width:0.18px" >Urinary TXM</text></g>
<g transform="translate(41.4 221.05) rotate(-90)"><text transform="translate(0 0) scale(0.835 1)" text-anchor="middle" style="font-family:'Liberation Sans', sans-serif;font-size:10.2px;fill:#1a1a1a;font-weight:normal;stroke:#1a1a1a;stroke-width:0.18px" >pg/mg creatinine</text></g>
<g stroke="#fff" stroke-opacity="0.5" stroke-width="0.5"><circle cx="86.07" cy="237.28" r="2.5" fill="#3a74c6"/><circle cx="86.07" cy="247.58" r="2.5" fill="#e9c32e"/><circle cx="89.24" cy="236.42" r="2.5" fill="#3a74c6"/><circle cx="89.24" cy="240.41" r="2.5" fill="#e9c32e"/><circle cx="92.41" cy="235.29" r="2.5" fill="#3a74c6"/><circle cx="92.41" cy="235.97" r="2.5" fill="#e9c32e"/><circle cx="95.58" cy="233.57" r="2.5" fill="#3a74c6"/><circle cx="95.58" cy="235.48" r="2.5" fill="#e9c32e"/><circle cx="98.75" cy="230.1" r="2.5" fill="#3a74c6"/><circle cx="98.75" cy="234.32" r="2.5" fill="#e9c32e"/><circle cx="101.91" cy="234.04" r="2.5" fill="#e9c32e"/><circle cx="105.08" cy="227.34" r="2.5" fill="#3a74c6"/><circle cx="101.91" cy="229.47" r="2.5" fill="#3a74c6"/><circle cx="105.08" cy="232.8" r="2.5" fill="#e9c32e"/><circle cx="108.25" cy="226.11" r="2.5" fill="#3a74c6"/><circle cx="108.25" cy="232.29" r="2.5" fill="#e9c32e"/><circle cx="111.42" cy="231.9" r="2.5" fill="#e9c32e"/><circle cx="111.42" cy="222.22" r="2.5" fill="#3a74c6"/><circle cx="114.59" cy="222.22" r="2.5" fill="#3a74c6"/><circle cx="114.59" cy="231.65" r="2.5" fill="#e9c32e"/><circle cx="117.76" cy="221.42" r="2.5" fill="#3a74c6"/><circle cx="117.76" cy="230.95" r="2.5" fill="#e9c32e"/><circle cx="120.93" cy="221.34" r="2.5" fill="#3a74c6"/><circle cx="120.93" cy="230.34" r="2.5" fill="#e9c32e"/><circle cx="124.1" cy="229.64" r="2.5" fill="#e9c32e"/><circle cx="124.1" cy="220.8" r="2.5" fill="#3a74c6"/><circle cx="127.27" cy="229.67" r="2.5" fill="#e9c32e"/><circle cx="127.27" cy="220.65" r="2.5" fill="#3a74c6"/><circle cx="130.44" cy="220.76" r="2.5" fill="#3a74c6"/><circle cx="130.44" cy="229.33" r="2.5" fill="#e9c32e"/><circle cx="133.6" cy="220.41" r="2.5" fill="#3a74c6"/><circle cx="133.6" cy="229.05" r="2.5" fill="#e9c32e"/><circle cx="136.77" cy="220.57" r="2.5" fill="#3a74c6"/><circle cx="136.77" cy="228.34" r="2.5" fill="#e9c32e"/><circle cx="139.94" cy="228.98" r="2.5" fill="#e9c32e"/><circle cx="143.11" cy="219.57" r="2.5" fill="#3a74c6"/><circle cx="139.94" cy="220.24" r="2.5" fill="#3a74c6"/><circle cx="143.11" cy="227.49" r="2.5" fill="#e9c32e"/><circle cx="146.28" cy="227.75" r="2.5" fill="#e9c32e"/><circle cx="146.28" cy="218.51" r="2.5" fill="#3a74c6"/><circle cx="149.45" cy="217.62" r="2.5" fill="#3a74c6"/><circle cx="149.45" cy="227.04" r="2.5" fill="#e9c32e"/><circle cx="152.62" cy="217.39" r="2.5" fill="#3a74c6"/><circle cx="152.62" cy="225.51" r="2.5" fill="#e9c32e"/><circle cx="155.79" cy="216.49" r="2.5" fill="#3a74c6"/><circle cx="155.79" cy="225.66" r="2.5" fill="#e9c32e"/><circle cx="158.96" cy="216.1" r="2.5" fill="#3a74c6"/><circle cx="158.96" cy="225.71" r="2.5" fill="#e9c32e"/><circle cx="162.12" cy="225.37" r="2.5" fill="#e9c32e"/><circle cx="165.29" cy="215.14" r="2.5" fill="#3a74c6"/><circle cx="162.12" cy="216.53" r="2.5" fill="#3a74c6"/><circle cx="165.29" cy="224.15" r="2.5" fill="#e9c32e"/><circle cx="168.46" cy="215.45" r="2.5" fill="#3a74c6"/><circle cx="168.46" cy="223.34" r="2.5" fill="#e9c32e"/><circle cx="171.63" cy="214.98" r="2.5" fill="#3a74c6"/><circle cx="171.63" cy="222.68" r="2.5" fill="#e9c32e"/><circle cx="174.8" cy="222.97" r="2.5" fill="#e9c32e"/><circle cx="174.8" cy="213.88" r="2.5" fill="#3a74c6"/><circle cx="177.97" cy="214.51" r="2.5" fill="#3a74c6"/><circle cx="177.97" cy="221.82" r="2.5" fill="#e9c32e"/><circle cx="181.14" cy="214.22" r="2.5" fill="#3a74c6"/><circle cx="181.14" cy="221.97" r="2.5" fill="#e9c32e"/><circle cx="184.31" cy="213.47" r="2.5" fill="#3a74c6"/><circle cx="184.31" cy="221.07" r="2.5" fill="#e9c32e"/><circle cx="187.48" cy="221.17" r="2.5" fill="#e9c32e"/><circle cx="187.48" cy="213.17" r="2.5" fill="#3a74c6"/><circle cx="190.65" cy="212.84" r="2.5" fill="#3a74c6"/><circle cx="190.65" cy="221.32" r="2.5" fill="#e9c32e"/><circle cx="193.81" cy="211.6" r="2.5" fill="#3a74c6"/><circle cx="193.81" cy="219.97" r="2.5" fill="#e9c32e"/><circle cx="196.98" cy="211.64" r="2.5" fill="#3a74c6"/><circle cx="196.98" cy="220.43" r="2.5" fill="#e9c32e"/><circle cx="200.15" cy="211.2" r="2.5" fill="#3a74c6"/><circle cx="200.15" cy="219.7" r="2.5" fill="#e9c32e"/><circle cx="203.32" cy="211.41" r="2.5" fill="#3a74c6"/><circle cx="203.32" cy="219.98" r="2.5" fill="#e9c32e"/><circle cx="206.49" cy="219.59" r="2.5" fill="#e9c32e"/><circle cx="209.66" cy="211.04" r="2.5" fill="#3a74c6"/><circle cx="206.49" cy="211.19" r="2.5" fill="#3a74c6"/><circle cx="209.66" cy="218.85" r="2.5" fill="#e9c32e"/><circle cx="212.83" cy="210.57" r="2.5" fill="#3a74c6"/><circle cx="212.83" cy="219.48" r="2.5" fill="#e9c32e"/><circle cx="216" cy="210.76" r="2.5" fill="#3a74c6"/><circle cx="216" cy="218.81" r="2.5" fill="#e9c32e"/><circle cx="219.17" cy="210.32" r="2.5" fill="#3a74c6"/><circle cx="219.17" cy="218.09" r="2.5" fill="#e9c32e"/><circle cx="222.34" cy="217.89" r="2.5" fill="#e9c32e"/><circle cx="222.34" cy="210.16" r="2.5" fill="#3a74c6"/><circle cx="225.5" cy="218.31" r="2.5" fill="#e9c32e"/><circle cx="225.5" cy="209.42" r="2.5" fill="#3a74c6"/><circle cx="228.67" cy="209" r="2.5" fill="#3a74c6"/><circle cx="228.67" cy="218.08" r="2.5" fill="#e9c32e"/><circle cx="231.84" cy="217.73" r="2.5" fill="#e9c32e"/><circle cx="235.01" cy="209.03" r="2.5" fill="#3a74c6"/><circle cx="231.84" cy="208.94" r="2.5" fill="#3a74c6"/><circle cx="235.01" cy="217.37" r="2.5" fill="#e9c32e"/><circle cx="238.18" cy="217.25" r="2.5" fill="#e9c32e"/><circle cx="241.35" cy="209.06" r="2.5" fill="#3a74c6"/><circle cx="238.18" cy="208.46" r="2.5" fill="#3a74c6"/><circle cx="241.35" cy="216.85" r="2.5" fill="#e9c32e"/><circle cx="244.52" cy="208.46" r="2.5" fill="#3a74c6"/><circle cx="244.52" cy="217.11" r="2.5" fill="#e9c32e"/><circle cx="247.69" cy="208.27" r="2.5" fill="#3a74c6"/><circle cx="247.69" cy="215.74" r="2.5" fill="#e9c32e"/><circle cx="250.86" cy="208" r="2.5" fill="#3a74c6"/><circle cx="250.86" cy="216.28" r="2.5" fill="#e9c32e"/><circle cx="254.03" cy="207.8" r="2.5" fill="#3a74c6"/><circle cx="254.03" cy="216.02" r="2.5" fill="#e9c32e"/><circle cx="257.2" cy="207.3" r="2.5" fill="#3a74c6"/><circle cx="257.2" cy="214.79" r="2.5" fill="#e9c32e"/><circle cx="260.36" cy="215.39" r="2.5" fill="#e9c32e"/><circle cx="263.53" cy="207.13" r="2.5" fill="#3a74c6"/><circle cx="260.36" cy="206.45" r="2.5" fill="#3a74c6"/><circle cx="263.53" cy="214.77" r="2.5" fill="#e9c32e"/><circle cx="266.7" cy="206.8" r="2.5" fill="#3a74c6"/><circle cx="266.7" cy="214.64" r="2.5" fill="#e9c32e"/><circle cx="269.87" cy="206.24" r="2.5" fill="#3a74c6"/><circle cx="269.87" cy="213.54" r="2.5" fill="#e9c32e"/><circle cx="273.04" cy="206.01" r="2.5" fill="#3a74c6"/><circle cx="273.04" cy="213.27" r="2.5" fill="#e9c32e"/><circle cx="276.21" cy="205.76" r="2.5" fill="#3a74c6"/><circle cx="276.21" cy="212.85" r="2.5" fill="#e9c32e"/><circle cx="279.38" cy="212.99" r="2.5" fill="#e9c32e"/><circle cx="282.55" cy="204.64" r="2.5" fill="#3a74c6"/><circle cx="279.38" cy="204.44" r="2.5" fill="#3a74c6"/><circle cx="282.55" cy="211.92" r="2.5" fill="#e9c32e"/><circle cx="285.72" cy="203.45" r="2.5" fill="#3a74c6"/><circle cx="285.72" cy="211.06" r="2.5" fill="#e9c32e"/><circle cx="288.88" cy="202.62" r="2.5" fill="#3a74c6"/><circle cx="288.88" cy="210.56" r="2.5" fill="#e9c32e"/><circle cx="292.05" cy="202.24" r="2.5" fill="#3a74c6"/><circle cx="292.05" cy="209.79" r="2.5" fill="#e9c32e"/><circle cx="295.22" cy="202.19" r="2.5" fill="#3a74c6"/><circle cx="295.22" cy="208.94" r="2.5" fill="#e9c32e"/><circle cx="298.39" cy="200.95" r="2.5" fill="#3a74c6"/><circle cx="298.39" cy="208.42" r="2.5" fill="#e9c32e"/><circle cx="301.56" cy="208.6" r="2.5" fill="#e9c32e"/><circle cx="301.56" cy="200.91" r="2.5" fill="#3a74c6"/><circle cx="304.73" cy="207.12" r="2.5" fill="#e9c32e"/><circle cx="304.73" cy="200.42" r="2.5" fill="#3a74c6"/><circle cx="307.9" cy="199.08" r="2.5" fill="#3a74c6"/><circle cx="307.9" cy="205.92" r="2.5" fill="#e9c32e"/><circle cx="311.07" cy="203.12" r="2.5" fill="#e9c32e"/><circle cx="311.07" cy="198.19" r="2.5" fill="#3a74c6"/><circle cx="314.24" cy="197.56" r="2.5" fill="#3a74c6"/><circle cx="314.24" cy="201.51" r="2.5" fill="#e9c32e"/><circle cx="317.41" cy="201.01" r="2.5" fill="#e9c32e"/><circle cx="317.41" cy="196.87" r="2.5" fill="#3a74c6"/><circle cx="320.58" cy="200.43" r="2.5" fill="#e9c32e"/><circle cx="320.58" cy="196.14" r="2.5" fill="#3a74c6"/><circle cx="323.74" cy="200.08" r="2.5" fill="#e9c32e"/><circle cx="323.74" cy="194.58" r="2.5" fill="#3a74c6"/><circle cx="326.91" cy="193.57" r="2.5" fill="#e9c32e"/><circle cx="326.91" cy="190.53" r="2.5" fill="#3a74c6"/><circle cx="330.08" cy="185.14" r="2.5" fill="#e9c32e"/></g>
<path d="M409.2 175.3 V266.8 H508.5" fill="none" stroke="#000" stroke-width="1.4"/>
<path d="M405.8 179.5H408.5 M405.8 189.6H408.5 M405.8 204.4H408.5 M405.8 215.4H408.5 M405.8 226.2H408.5 M405.8 240.5H408.5 M405.8 252.1H408.5 M405.8 262.5H408.5 M413.6 267.5V270.2 M430.86 267.5V270.2 M448.12 267.5V270.2 M465.38 267.5V270.2 M482.64 267.5V270.2 M499.9 267.5V270.2" stroke="#2a2a2a" stroke-width="1" fill="none"/>
<text transform="translate(402 182.25) scale(0.890 1)" text-anchor="end" style="font-family:'Liberation Sans', sans-serif;font-size:9.5px;fill:#1a1a1a;font-weight:normal;stroke:#1a1a1a;stroke-width:0.18px" >5000</text><text transform="translate(402 192.35) scale(0.890 1)" text-anchor="end" style="font-family:'Liberation Sans', sans-serif;font-size:9.5px;fill:#1a1a1a;font-weight:normal;stroke:#1a1a1a;stroke-width:0.18px" >2500</text><text transform="translate(402 207.15) scale(0.890 1)" text-anchor="end" style="font-family:'Liberation Sans', sans-serif;font-size:9.5px;fill:#1a1a1a;font-weight:normal;stroke:#1a1a1a;stroke-width:0.18px" >1000</text><text transform="translate(402 218.15) scale(0.890 1)" text-anchor="end" style="font-family:'Liberation Sans', sans-serif;font-size:9.5px;fill:#1a1a1a;font-weight:normal;stroke:#1a1a1a;stroke-width:0.18px" >500</text><text transform="translate(402 228.95) scale(0.890 1)" text-anchor="end" style="font-family:'Liberation Sans', sans-serif;font-size:9.5px;fill:#1a1a1a;font-weight:normal;stroke:#1a1a1a;stroke-width:0.18px" >250</text><text transform="translate(402 243.25) scale(0.890 1)" text-anchor="end" style="font-family:'Liberation Sans', sans-serif;font-size:9.5px;fill:#1a1a1a;font-weight:normal;stroke:#1a1a1a;stroke-width:0.18px" >100</text><text transform="translate(402 254.85) scale(0.890 1)" text-anchor="end" style="font-family:'Liberation Sans', sans-serif;font-size:9.5px;fill:#1a1a1a;font-weight:normal;stroke:#1a1a1a;stroke-width:0.18px" >50</text><text transform="translate(402 265.25) scale(0.890 1)" text-anchor="end" style="font-family:'Liberation Sans', sans-serif;font-size:9.5px;fill:#1a1a1a;font-weight:normal;stroke:#1a1a1a;stroke-width:0.18px" >25</text><text transform="translate(413.6 280.6) scale(0.870 1)" text-anchor="middle" style="font-family:'Liberation Sans', sans-serif;font-size:9.5px;fill:#1a1a1a;font-weight:normal;stroke:#1a1a1a;stroke-width:0.18px" >0.0</text><text transform="translate(430.86 280.6) scale(0.870 1)" text-anchor="middle" style="font-family:'Liberation Sans', sans-serif;font-size:9.5px;fill:#1a1a1a;font-weight:normal;stroke:#1a1a1a;stroke-width:0.18px" >0.1</text><text transform="translate(448.12 280.6) scale(0.870 1)" text-anchor="middle" style="font-family:'Liberation Sans', sans-serif;font-size:9.5px;fill:#1a1a1a;font-weight:normal;stroke:#1a1a1a;stroke-width:0.18px" >0.2</text><text transform="translate(465.38 280.6) scale(0.870 1)" text-anchor="middle" style="font-family:'Liberation Sans', sans-serif;font-size:9.5px;fill:#1a1a1a;font-weight:normal;stroke:#1a1a1a;stroke-width:0.18px" >0.3</text><text transform="translate(482.64 280.6) scale(0.870 1)" text-anchor="middle" style="font-family:'Liberation Sans', sans-serif;font-size:9.5px;fill:#1a1a1a;font-weight:normal;stroke:#1a1a1a;stroke-width:0.18px" >0.4</text><text transform="translate(499.9 280.6) scale(0.870 1)" text-anchor="middle" style="font-family:'Liberation Sans', sans-serif;font-size:9.5px;fill:#1a1a1a;font-weight:normal;stroke:#1a1a1a;stroke-width:0.18px" >0.5</text>
<text transform="translate(458.75 295.8) scale(0.820 1)" text-anchor="middle" style="font-family:'Liberation Sans', sans-serif;font-size:10px;fill:#1a1a1a;font-weight:normal;stroke:#1a1a1a;stroke-width:0.18px" >Density</text>
<defs><clipPath id="cbB"><path d="M413.6 183.5 L413.6 183.5 C413.8 183.95 414.32 185.38 414.8 186.2 C415.28 187.02 415.63 187.53 416.5 188.4 C417.37 189.27 417.75 190.35 420 191.4 C422.25 192.45 426.67 193.68 430 194.7 C433.33 195.72 436.67 196.52 440 197.5 C443.33 198.48 447.5 199.92 450 200.6 C452.5 201.28 451.67 200.97 455 201.6 C458.33 202.23 464.17 203.45 470 204.4 C475.83 205.35 485 206.48 490 207.3 C495 208.12 497.63 208.68 500 209.3 C502.37 209.92 504.2 210.45 504.2 211 C504.2 211.55 502.37 212.15 500 212.6 C497.63 213.05 493.33 213.33 490 213.7 C486.67 214.07 483.33 214.32 480 214.8 C476.67 215.28 472.5 215.87 470 216.6 C467.5 217.33 468.33 218.17 465 219.2 C461.67 220.23 454.17 221.92 450 222.8 C445.83 223.68 443.33 223.98 440 224.5 C436.67 225.02 432.17 225.47 430 225.9 C427.83 226.33 427.6 226.5 427 227.1 C426.4 227.7 426.52 228.52 426.4 229.5 C426.28 230.48 426.23 231.82 426.3 233 C426.37 234.18 427.35 235.72 426.8 236.6 C426.25 237.48 424.05 237.83 423 238.3 C421.95 238.77 421.5 238.95 420.5 239.4 C419.5 239.85 418.05 240.4 417 241 C415.95 241.6 414.77 242.42 414.2 243 C413.63 243.58 413.7 244.25 413.6 244.5 L413.6 244.5 Z"/></clipPath></defs>
<path d="M413.6 179.3 L413.6 179.3 C413.87 179.67 414.73 180.67 415.2 181.5 C415.67 182.33 416.27 183.47 416.4 184.3 C416.53 185.13 416.13 185.88 416 186.5 C415.87 187.12 415.52 187.22 415.6 188 C415.68 188.78 416.1 190.23 416.5 191.2 C416.9 192.17 417.17 192.93 418 193.8 C418.83 194.67 420 195.48 421.5 196.4 C423 197.32 424.75 198.05 427 199.3 C429.25 200.55 432 202.53 435 203.9 C438 205.27 441.67 206.4 445 207.5 C448.33 208.6 451.67 209.53 455 210.5 C458.33 211.47 461.17 212.37 465 213.3 C468.83 214.23 474.17 215.22 478 216.1 C481.83 216.98 485.83 217.98 488 218.6 C490.17 219.22 490.83 219.35 491 219.8 C491.17 220.25 491.17 220.83 489 221.3 C486.83 221.77 481.17 222.2 478 222.6 C474.83 223 472.17 223.08 470 223.7 C467.83 224.32 466.35 225.15 465 226.3 C463.65 227.45 464.23 229.32 461.9 230.6 C459.57 231.88 455.03 233 451 234 C446.97 235 441.53 235.93 437.7 236.6 C433.87 237.27 430.93 237.43 428 238 C425.07 238.57 421.82 239.33 420.1 240 C418.38 240.67 418.2 241.17 417.7 242 C417.2 242.83 417.4 243.67 417.1 245 C416.8 246.33 416.42 248.33 415.9 250 C415.38 251.67 414.38 253.67 414 255 C413.62 256.33 413.67 257.5 413.6 258 L413.6 258 Z" fill="#f8dc78"/>
<path d="M413.6 183.5 L413.6 183.5 C413.8 183.95 414.32 185.38 414.8 186.2 C415.28 187.02 415.63 187.53 416.5 188.4 C417.37 189.27 417.75 190.35 420 191.4 C422.25 192.45 426.67 193.68 430 194.7 C433.33 195.72 436.67 196.52 440 197.5 C443.33 198.48 447.5 199.92 450 200.6 C452.5 201.28 451.67 200.97 455 201.6 C458.33 202.23 464.17 203.45 470 204.4 C475.83 205.35 485 206.48 490 207.3 C495 208.12 497.63 208.68 500 209.3 C502.37 209.92 504.2 210.45 504.2 211 C504.2 211.55 502.37 212.15 500 212.6 C497.63 213.05 493.33 213.33 490 213.7 C486.67 214.07 483.33 214.32 480 214.8 C476.67 215.28 472.5 215.87 470 216.6 C467.5 217.33 468.33 218.17 465 219.2 C461.67 220.23 454.17 221.92 450 222.8 C445.83 223.68 443.33 223.98 440 224.5 C436.67 225.02 432.17 225.47 430 225.9 C427.83 226.33 427.6 226.5 427 227.1 C426.4 227.7 426.52 228.52 426.4 229.5 C426.28 230.48 426.23 231.82 426.3 233 C426.37 234.18 427.35 235.72 426.8 236.6 C426.25 237.48 424.05 237.83 423 238.3 C421.95 238.77 421.5 238.95 420.5 239.4 C419.5 239.85 418.05 240.4 417 241 C415.95 241.6 414.77 242.42 414.2 243 C413.63 243.58 413.7 244.25 413.6 244.5 L413.6 244.5 Z" fill="#76b4e2"/>
<path d="M413.6 179.3 L413.6 179.3 C413.87 179.67 414.73 180.67 415.2 181.5 C415.67 182.33 416.27 183.47 416.4 184.3 C416.53 185.13 416.13 185.88 416 186.5 C415.87 187.12 415.52 187.22 415.6 188 C415.68 188.78 416.1 190.23 416.5 191.2 C416.9 192.17 417.17 192.93 418 193.8 C418.83 194.67 420 195.48 421.5 196.4 C423 197.32 424.75 198.05 427 199.3 C429.25 200.55 432 202.53 435 203.9 C438 205.27 441.67 206.4 445 207.5 C448.33 208.6 451.67 209.53 455 210.5 C458.33 211.47 461.17 212.37 465 213.3 C468.83 214.23 474.17 215.22 478 216.1 C481.83 216.98 485.83 217.98 488 218.6 C490.17 219.22 490.83 219.35 491 219.8 C491.17 220.25 491.17 220.83 489 221.3 C486.83 221.77 481.17 222.2 478 222.6 C474.83 223 472.17 223.08 470 223.7 C467.83 224.32 466.35 225.15 465 226.3 C463.65 227.45 464.23 229.32 461.9 230.6 C459.57 231.88 455.03 233 451 234 C446.97 235 441.53 235.93 437.7 236.6 C433.87 237.27 430.93 237.43 428 238 C425.07 238.57 421.82 239.33 420.1 240 C418.38 240.67 418.2 241.17 417.7 242 C417.2 242.83 417.4 243.67 417.1 245 C416.8 246.33 416.42 248.33 415.9 250 C415.38 251.67 414.38 253.67 414 255 C413.62 256.33 413.67 257.5 413.6 258 L413.6 258 Z" fill="#79a46f" clip-path="url(#cbB)"/>
<path d="M413.6 179.3 L413.6 179.3 C413.87 179.67 414.73 180.67 415.2 181.5 C415.67 182.33 416.27 183.47 416.4 184.3 C416.53 185.13 416.13 185.88 416 186.5 C415.87 187.12 415.52 187.22 415.6 188 C415.68 188.78 416.1 190.23 416.5 191.2 C416.9 192.17 417.17 192.93 418 193.8 C418.83 194.67 420 195.48 421.5 196.4 C423 197.32 424.75 198.05 427 199.3 C429.25 200.55 432 202.53 435 203.9 C438 205.27 441.67 206.4 445 207.5 C448.33 208.6 451.67 209.53 455 210.5 C458.33 211.47 461.17 212.37 465 213.3 C468.83 214.23 474.17 215.22 478 216.1 C481.83 216.98 485.83 217.98 488 218.6 C490.17 219.22 490.83 219.35 491 219.8 C491.17 220.25 491.17 220.83 489 221.3 C486.83 221.77 481.17 222.2 478 222.6 C474.83 223 472.17 223.08 470 223.7 C467.83 224.32 466.35 225.15 465 226.3 C463.65 227.45 464.23 229.32 461.9 230.6 C459.57 231.88 455.03 233 451 234 C446.97 235 441.53 235.93 437.7 236.6 C433.87 237.27 430.93 237.43 428 238 C425.07 238.57 421.82 239.33 420.1 240 C418.38 240.67 418.2 241.17 417.7 242 C417.2 242.83 417.4 243.67 417.1 245 C416.8 246.33 416.42 248.33 415.9 250 C415.38 251.67 414.38 253.67 414 255 C413.62 256.33 413.67 257.5 413.6 258 L413.6 258 Z" fill="none" stroke="#111" stroke-width="1" stroke-linejoin="round"/>
<path d="M413.6 183.5 L413.6 183.5 C413.8 183.95 414.32 185.38 414.8 186.2 C415.28 187.02 415.63 187.53 416.5 188.4 C417.37 189.27 417.75 190.35 420 191.4 C422.25 192.45 426.67 193.68 430 194.7 C433.33 195.72 436.67 196.52 440 197.5 C443.33 198.48 447.5 199.92 450 200.6 C452.5 201.28 451.67 200.97 455 201.6 C458.33 202.23 464.17 203.45 470 204.4 C475.83 205.35 485 206.48 490 207.3 C495 208.12 497.63 208.68 500 209.3 C502.37 209.92 504.2 210.45 504.2 211 C504.2 211.55 502.37 212.15 500 212.6 C497.63 213.05 493.33 213.33 490 213.7 C486.67 214.07 483.33 214.32 480 214.8 C476.67 215.28 472.5 215.87 470 216.6 C467.5 217.33 468.33 218.17 465 219.2 C461.67 220.23 454.17 221.92 450 222.8 C445.83 223.68 443.33 223.98 440 224.5 C436.67 225.02 432.17 225.47 430 225.9 C427.83 226.33 427.6 226.5 427 227.1 C426.4 227.7 426.52 228.52 426.4 229.5 C426.28 230.48 426.23 231.82 426.3 233 C426.37 234.18 427.35 235.72 426.8 236.6 C426.25 237.48 424.05 237.83 423 238.3 C421.95 238.77 421.5 238.95 420.5 239.4 C419.5 239.85 418.05 240.4 417 241 C415.95 241.6 414.77 242.42 414.2 243 C413.63 243.58 413.7 244.25 413.6 244.5 L413.6 244.5 Z" fill="none" stroke="#111" stroke-width="1" stroke-linejoin="round"/>
<path d="M413.6 179.3 V263.2" stroke="#111" stroke-width="1.1"/>
<text transform="translate(7.5 318.6) scale(0.9 1)" style="font-family:'Liberation Sans', sans-serif;font-weight:bold;font-size:13.4px;fill:#000;stroke:#000;stroke-width:0.35">C</text>
<path d="M72.65 326.3 V417.9 H366" fill="none" stroke="#000" stroke-width="1.4"/>
<path d="M69.3 330.5H72 M69.3 341.1H72 M69.3 355.4H72 M69.3 366.6H72 M69.3 377.5H72 M69.3 391.6H72 M69.3 403.2H72 M69.3 414H72 M82.9 418.6V421.3 M98.75 418.6V421.3 M114.59 418.6V421.3 M130.44 418.6V421.3 M146.28 418.6V421.3 M162.12 418.6V421.3 M177.97 418.6V421.3 M193.81 418.6V421.3 M209.66 418.6V421.3 M225.5 418.6V421.3 M241.35 418.6V421.3 M257.2 418.6V421.3 M273.04 418.6V421.3 M288.88 418.6V421.3 M304.73 418.6V421.3 M320.58 418.6V421.3" stroke="#2a2a2a" stroke-width="1" fill="none"/>
<text transform="translate(66 333.25) scale(0.890 1)" text-anchor="end" style="font-family:'Liberation Sans', sans-serif;font-size:9.5px;fill:#1a1a1a;font-weight:normal;stroke:#1a1a1a;stroke-width:0.18px" >5000</text><text transform="translate(66 343.85) scale(0.890 1)" text-anchor="end" style="font-family:'Liberation Sans', sans-serif;font-size:9.5px;fill:#1a1a1a;font-weight:normal;stroke:#1a1a1a;stroke-width:0.18px" >2500</text><text transform="translate(66 358.15) scale(0.890 1)" text-anchor="end" style="font-family:'Liberation Sans', sans-serif;font-size:9.5px;fill:#1a1a1a;font-weight:normal;stroke:#1a1a1a;stroke-width:0.18px" >1000</text><text transform="translate(66 369.35) scale(0.890 1)" text-anchor="end" style="font-family:'Liberation Sans', sans-serif;font-size:9.5px;fill:#1a1a1a;font-weight:normal;stroke:#1a1a1a;stroke-width:0.18px" >500</text><text transform="translate(66 380.25) scale(0.890 1)" text-anchor="end" style="font-family:'Liberation Sans', sans-serif;font-size:9.5px;fill:#1a1a1a;font-weight:normal;stroke:#1a1a1a;stroke-width:0.18px" >250</text><text transform="translate(66 394.35) scale(0.890 1)" text-anchor="end" style="font-family:'Liberation Sans', sans-serif;font-size:9.5px;fill:#1a1a1a;font-weight:normal;stroke:#1a1a1a;stroke-width:0.18px" >100</text><text transform="translate(66 405.95) scale(0.890 1)" text-anchor="end" style="font-family:'Liberation Sans', sans-serif;font-size:9.5px;fill:#1a1a1a;font-weight:normal;stroke:#1a1a1a;stroke-width:0.18px" >50</text><text transform="translate(66 416.75) scale(0.890 1)" text-anchor="end" style="font-family:'Liberation Sans', sans-serif;font-size:9.5px;fill:#1a1a1a;font-weight:normal;stroke:#1a1a1a;stroke-width:0.18px" >25</text><text transform="translate(82.9 431.7) scale(0.870 1)" text-anchor="middle" style="font-family:'Liberation Sans', sans-serif;font-size:9.5px;fill:#1a1a1a;font-weight:normal;stroke:#1a1a1a;stroke-width:0.18px" >0</text><text transform="translate(98.75 431.7) scale(0.870 1)" text-anchor="middle" style="font-family:'Liberation Sans', sans-serif;font-size:9.5px;fill:#1a1a1a;font-weight:normal;stroke:#1a1a1a;stroke-width:0.18px" >5</text><text transform="translate(114.59 431.7) scale(0.870 1)" text-anchor="middle" style="font-family:'Liberation Sans', sans-serif;font-size:9.5px;fill:#1a1a1a;font-weight:normal;stroke:#1a1a1a;stroke-width:0.18px" >10</text><text transform="translate(130.44 431.7) scale(0.870 1)" text-anchor="middle" style="font-family:'Liberation Sans', sans-serif;font-size:9.5px;fill:#1a1a1a;font-weight:normal;stroke:#1a1a1a;stroke-width:0.18px" >15</text><text transform="translate(146.28 431.7) scale(0.870 1)" text-anchor="middle" style="font-family:'Liberation Sans', sans-serif;font-size:9.5px;fill:#1a1a1a;font-weight:normal;stroke:#1a1a1a;stroke-width:0.18px" >20</text><text transform="translate(162.12 431.7) scale(0.870 1)" text-anchor="middle" style="font-family:'Liberation Sans', sans-serif;font-size:9.5px;fill:#1a1a1a;font-weight:normal;stroke:#1a1a1a;stroke-width:0.18px" >25</text><text transform="translate(177.97 431.7) scale(0.870 1)" text-anchor="middle" style="font-family:'Liberation Sans', sans-serif;font-size:9.5px;fill:#1a1a1a;font-weight:normal;stroke:#1a1a1a;stroke-width:0.18px" >30</text><text transform="translate(193.81 431.7) scale(0.870 1)" text-anchor="middle" style="font-family:'Liberation Sans', sans-serif;font-size:9.5px;fill:#1a1a1a;font-weight:normal;stroke:#1a1a1a;stroke-width:0.18px" >35</text><text transform="translate(209.66 431.7) scale(0.870 1)" text-anchor="middle" style="font-family:'Liberation Sans', sans-serif;font-size:9.5px;fill:#1a1a1a;font-weight:normal;stroke:#1a1a1a;stroke-width:0.18px" >40</text><text transform="translate(225.5 431.7) scale(0.870 1)" text-anchor="middle" style="font-family:'Liberation Sans', sans-serif;font-size:9.5px;fill:#1a1a1a;font-weight:normal;stroke:#1a1a1a;stroke-width:0.18px" >45</text><text transform="translate(241.35 431.7) scale(0.870 1)" text-anchor="middle" style="font-family:'Liberation Sans', sans-serif;font-size:9.5px;fill:#1a1a1a;font-weight:normal;stroke:#1a1a1a;stroke-width:0.18px" >50</text><text transform="translate(257.2 431.7) scale(0.870 1)" text-anchor="middle" style="font-family:'Liberation Sans', sans-serif;font-size:9.5px;fill:#1a1a1a;font-weight:normal;stroke:#1a1a1a;stroke-width:0.18px" >55</text><text transform="translate(273.04 431.7) scale(0.870 1)" text-anchor="middle" style="font-family:'Liberation Sans', sans-serif;font-size:9.5px;fill:#1a1a1a;font-weight:normal;stroke:#1a1a1a;stroke-width:0.18px" >60</text><text transform="translate(288.88 431.7) scale(0.870 1)" text-anchor="middle" style="font-family:'Liberation Sans', sans-serif;font-size:9.5px;fill:#1a1a1a;font-weight:normal;stroke:#1a1a1a;stroke-width:0.18px" >65</text><text transform="translate(304.73 431.7) scale(0.870 1)" text-anchor="middle" style="font-family:'Liberation Sans', sans-serif;font-size:9.5px;fill:#1a1a1a;font-weight:normal;stroke:#1a1a1a;stroke-width:0.18px" >70</text><text transform="translate(320.58 431.7) scale(0.870 1)" text-anchor="middle" style="font-family:'Liberation Sans', sans-serif;font-size:9.5px;fill:#1a1a1a;font-weight:normal;stroke:#1a1a1a;stroke-width:0.18px" >75</text>
<text transform="translate(219.35 445.9) scale(0.810 1)" text-anchor="middle" style="font-family:'Liberation Sans', sans-serif;font-size:9.9px;fill:#1a1a1a;font-weight:normal;stroke:#1a1a1a;stroke-width:0.18px" >Patient</text>
<g transform="translate(28.2 372.1) rotate(-90)"><text transform="translate(0 0) scale(0.765 1)" text-anchor="middle" style="font-family:'Liberation Sans', sans-serif;font-size:10.2px;fill:#1a1a1a;font-weight:normal;stroke:#1a1a1a;stroke-width:0.18px" >Urinary TXM</text></g>
<g transform="translate(41.4 372.1) rotate(-90)"><text transform="translate(0 0) scale(0.835 1)" text-anchor="middle" style="font-family:'Liberation Sans', sans-serif;font-size:10.2px;fill:#1a1a1a;font-weight:normal;stroke:#1a1a1a;stroke-width:0.18px" >pg/mg creatinine</text></g>
<g stroke="#fff" stroke-opacity="0.5" stroke-width="0.5"><circle cx="86.07" cy="385.09" r="2.5" fill="#3a74c6"/><circle cx="86.07" cy="403.52" r="2.5" fill="#e9c32e"/><circle cx="89.24" cy="381.29" r="2.5" fill="#3a74c6"/><circle cx="89.24" cy="400.87" r="2.5" fill="#e9c32e"/><circle cx="92.41" cy="380.81" r="2.5" fill="#3a74c6"/><circle cx="92.41" cy="395.01" r="2.5" fill="#e9c32e"/><circle cx="95.58" cy="379.26" r="2.5" fill="#3a74c6"/><circle cx="95.58" cy="389.3" r="2.5" fill="#e9c32e"/><circle cx="98.75" cy="377.65" r="2.5" fill="#3a74c6"/><circle cx="98.75" cy="388.67" r="2.5" fill="#e9c32e"/><circle cx="101.91" cy="376.48" r="2.5" fill="#3a74c6"/><circle cx="101.91" cy="388.28" r="2.5" fill="#e9c32e"/><circle cx="105.08" cy="387.76" r="2.5" fill="#e9c32e"/><circle cx="105.08" cy="376.3" r="2.5" fill="#3a74c6"/><circle cx="108.25" cy="375.36" r="2.5" fill="#3a74c6"/><circle cx="108.25" cy="384.34" r="2.5" fill="#e9c32e"/><circle cx="111.42" cy="375.44" r="2.5" fill="#3a74c6"/><circle cx="111.42" cy="383.04" r="2.5" fill="#e9c32e"/><circle cx="114.59" cy="374.54" r="2.5" fill="#3a74c6"/><circle cx="114.59" cy="382.13" r="2.5" fill="#e9c32e"/><circle cx="117.76" cy="373.82" r="2.5" fill="#3a74c6"/><circle cx="117.76" cy="381.78" r="2.5" fill="#e9c32e"/><circle cx="120.93" cy="380.75" r="2.5" fill="#e9c32e"/><circle cx="120.93" cy="372.39" r="2.5" fill="#3a74c6"/><circle cx="124.1" cy="380.46" r="2.5" fill="#e9c32e"/><circle cx="124.1" cy="372.04" r="2.5" fill="#3a74c6"/><circle cx="127.27" cy="371.89" r="2.5" fill="#3a74c6"/><circle cx="127.27" cy="380.33" r="2.5" fill="#e9c32e"/><circle cx="130.44" cy="372.09" r="2.5" fill="#3a74c6"/><circle cx="130.44" cy="380.82" r="2.5" fill="#e9c32e"/><circle cx="133.6" cy="372.06" r="2.5" fill="#3a74c6"/><circle cx="133.6" cy="379.87" r="2.5" fill="#e9c32e"/><circle cx="136.77" cy="371.5" r="2.5" fill="#3a74c6"/><circle cx="136.77" cy="379.92" r="2.5" fill="#e9c32e"/><circle cx="139.94" cy="371" r="2.5" fill="#3a74c6"/><circle cx="139.94" cy="379.45" r="2.5" fill="#e9c32e"/><circle cx="143.11" cy="370.93" r="2.5" fill="#3a74c6"/><circle cx="143.11" cy="379.27" r="2.5" fill="#e9c32e"/><circle cx="146.28" cy="370.89" r="2.5" fill="#3a74c6"/><circle cx="146.28" cy="379.53" r="2.5" fill="#e9c32e"/><circle cx="149.45" cy="370.68" r="2.5" fill="#3a74c6"/><circle cx="149.45" cy="379.44" r="2.5" fill="#e9c32e"/><circle cx="152.62" cy="378.5" r="2.5" fill="#e9c32e"/><circle cx="152.62" cy="370.5" r="2.5" fill="#3a74c6"/><circle cx="155.79" cy="370.34" r="2.5" fill="#3a74c6"/><circle cx="155.79" cy="378.08" r="2.5" fill="#e9c32e"/><circle cx="158.96" cy="369.87" r="2.5" fill="#3a74c6"/><circle cx="158.96" cy="378.43" r="2.5" fill="#e9c32e"/><circle cx="162.12" cy="368.98" r="2.5" fill="#3a74c6"/><circle cx="162.12" cy="377.49" r="2.5" fill="#e9c32e"/><circle cx="165.29" cy="376.84" r="2.5" fill="#e9c32e"/><circle cx="168.46" cy="368.57" r="2.5" fill="#3a74c6"/><circle cx="165.29" cy="369.47" r="2.5" fill="#3a74c6"/><circle cx="168.46" cy="377.4" r="2.5" fill="#e9c32e"/><circle cx="171.63" cy="368.57" r="2.5" fill="#3a74c6"/><circle cx="171.63" cy="376.45" r="2.5" fill="#e9c32e"/><circle cx="174.8" cy="368.05" r="2.5" fill="#3a74c6"/><circle cx="174.8" cy="376.45" r="2.5" fill="#e9c32e"/><circle cx="177.97" cy="368.15" r="2.5" fill="#3a74c6"/><circle cx="177.97" cy="375.57" r="2.5" fill="#e9c32e"/><circle cx="181.14" cy="375.76" r="2.5" fill="#e9c32e"/><circle cx="184.31" cy="367.01" r="2.5" fill="#3a74c6"/><circle cx="181.14" cy="367.26" r="2.5" fill="#3a74c6"/><circle cx="184.31" cy="375.14" r="2.5" fill="#e9c32e"/><circle cx="187.48" cy="374.65" r="2.5" fill="#e9c32e"/><circle cx="187.48" cy="366.71" r="2.5" fill="#3a74c6"/><circle cx="190.65" cy="374.31" r="2.5" fill="#e9c32e"/><circle cx="190.65" cy="366.31" r="2.5" fill="#3a74c6"/><circle cx="193.81" cy="366.81" r="2.5" fill="#3a74c6"/><circle cx="193.81" cy="374.62" r="2.5" fill="#e9c32e"/><circle cx="196.98" cy="373.02" r="2.5" fill="#e9c32e"/><circle cx="196.98" cy="366.17" r="2.5" fill="#3a74c6"/><circle cx="200.15" cy="372.34" r="2.5" fill="#e9c32e"/><circle cx="203.32" cy="365.48" r="2.5" fill="#3a74c6"/><circle cx="200.15" cy="365.6" r="2.5" fill="#3a74c6"/><circle cx="203.32" cy="371.25" r="2.5" fill="#e9c32e"/><circle cx="206.49" cy="365.93" r="2.5" fill="#3a74c6"/><circle cx="206.49" cy="371.64" r="2.5" fill="#e9c32e"/><circle cx="209.66" cy="365.2" r="2.5" fill="#3a74c6"/><circle cx="209.66" cy="371.18" r="2.5" fill="#e9c32e"/><circle cx="212.83" cy="371.14" r="2.5" fill="#e9c32e"/><circle cx="212.83" cy="364.69" r="2.5" fill="#3a74c6"/><circle cx="216" cy="365.13" r="2.5" fill="#3a74c6"/><circle cx="216" cy="370.54" r="2.5" fill="#e9c32e"/><circle cx="219.17" cy="364.76" r="2.5" fill="#3a74c6"/><circle cx="219.17" cy="370.45" r="2.5" fill="#e9c32e"/><circle cx="222.34" cy="364.93" r="2.5" fill="#3a74c6"/><circle cx="222.34" cy="370.47" r="2.5" fill="#e9c32e"/><circle cx="225.5" cy="363.75" r="2.5" fill="#3a74c6"/><circle cx="225.5" cy="370.68" r="2.5" fill="#e9c32e"/><circle cx="228.67" cy="363.96" r="2.5" fill="#3a74c6"/><circle cx="228.67" cy="369.54" r="2.5" fill="#e9c32e"/><circle cx="231.84" cy="364.14" r="2.5" fill="#3a74c6"/><circle cx="231.84" cy="369.73" r="2.5" fill="#e9c32e"/><circle cx="235.01" cy="363.96" r="2.5" fill="#3a74c6"/><circle cx="235.01" cy="369.83" r="2.5" fill="#e9c32e"/><circle cx="238.18" cy="363.85" r="2.5" fill="#3a74c6"/><circle cx="238.18" cy="369.75" r="2.5" fill="#e9c32e"/><circle cx="241.35" cy="361.72" r="2.5" fill="#3a74c6"/><circle cx="241.35" cy="368.64" r="2.5" fill="#e9c32e"/><circle cx="244.52" cy="360.34" r="2.5" fill="#3a74c6"/><circle cx="244.52" cy="368.3" r="2.5" fill="#e9c32e"/><circle cx="247.69" cy="368.94" r="2.5" fill="#e9c32e"/><circle cx="247.69" cy="359.93" r="2.5" fill="#3a74c6"/><circle cx="250.86" cy="359.79" r="2.5" fill="#3a74c6"/><circle cx="250.86" cy="368.71" r="2.5" fill="#e9c32e"/><circle cx="254.03" cy="360.44" r="2.5" fill="#3a74c6"/><circle cx="254.03" cy="367.91" r="2.5" fill="#e9c32e"/><circle cx="257.2" cy="367.18" r="2.5" fill="#e9c32e"/><circle cx="260.36" cy="359.96" r="2.5" fill="#3a74c6"/><circle cx="257.2" cy="359.8" r="2.5" fill="#3a74c6"/><circle cx="260.36" cy="367.88" r="2.5" fill="#e9c32e"/><circle cx="263.53" cy="367.02" r="2.5" fill="#e9c32e"/><circle cx="263.53" cy="359.14" r="2.5" fill="#3a74c6"/><circle cx="266.7" cy="367.33" r="2.5" fill="#e9c32e"/><circle cx="266.7" cy="359.46" r="2.5" fill="#3a74c6"/><circle cx="269.87" cy="366.76" r="2.5" fill="#e9c32e"/><circle cx="269.87" cy="358.79" r="2.5" fill="#3a74c6"/><circle cx="273.04" cy="358.37" r="2.5" fill="#3a74c6"/><circle cx="273.04" cy="366.72" r="2.5" fill="#e9c32e"/><circle cx="276.21" cy="358.65" r="2.5" fill="#3a74c6"/><circle cx="276.21" cy="365.59" r="2.5" fill="#e9c32e"/><circle cx="279.38" cy="365.66" r="2.5" fill="#e9c32e"/><circle cx="279.38" cy="358.44" r="2.5" fill="#3a74c6"/><circle cx="282.55" cy="364.42" r="2.5" fill="#e9c32e"/><circle cx="282.55" cy="357.11" r="2.5" fill="#3a74c6"/><circle cx="285.72" cy="363.99" r="2.5" fill="#e9c32e"/><circle cx="285.72" cy="357.25" r="2.5" fill="#3a74c6"/><circle cx="288.88" cy="356.87" r="2.5" fill="#3a74c6"/><circle cx="288.88" cy="363.86" r="2.5" fill="#e9c32e"/><circle cx="292.05" cy="356.08" r="2.5" fill="#3a74c6"/><circle cx="292.05" cy="363.22" r="2.5" fill="#e9c32e"/><circle cx="295.22" cy="361.89" r="2.5" fill="#e9c32e"/><circle cx="295.22" cy="355.92" r="2.5" fill="#3a74c6"/><circle cx="298.39" cy="355.34" r="2.5" fill="#3a74c6"/><circle cx="298.39" cy="361.31" r="2.5" fill="#e9c32e"/><circle cx="301.56" cy="355.08" r="2.5" fill="#3a74c6"/><circle cx="301.56" cy="360.85" r="2.5" fill="#e9c32e"/><circle cx="304.73" cy="351.02" r="2.5" fill="#3a74c6"/><circle cx="304.73" cy="360.28" r="2.5" fill="#e9c32e"/><circle cx="307.9" cy="359.43" r="2.5" fill="#e9c32e"/><circle cx="307.9" cy="350.81" r="2.5" fill="#3a74c6"/><circle cx="311.07" cy="358.45" r="2.5" fill="#e9c32e"/><circle cx="314.24" cy="349.13" r="2.5" fill="#3a74c6"/><circle cx="311.07" cy="350.25" r="2.5" fill="#3a74c6"/><circle cx="314.24" cy="357.89" r="2.5" fill="#e9c32e"/><circle cx="317.41" cy="357.38" r="2.5" fill="#e9c32e"/><circle cx="317.41" cy="347.8" r="2.5" fill="#3a74c6"/><circle cx="320.58" cy="356.43" r="2.5" fill="#e9c32e"/><circle cx="323.74" cy="345.41" r="2.5" fill="#3a74c6"/><circle cx="320.58" cy="346.8" r="2.5" fill="#3a74c6"/><circle cx="323.74" cy="354.75" r="2.5" fill="#e9c32e"/><circle cx="326.91" cy="354.04" r="2.5" fill="#e9c32e"/><circle cx="326.91" cy="343.89" r="2.5" fill="#3a74c6"/><circle cx="330.08" cy="339.33" r="2.5" fill="#3a74c6"/><circle cx="330.08" cy="353.46" r="2.5" fill="#e9c32e"/></g>
<path d="M409.2 326.3 V417.9 H508.5" fill="none" stroke="#000" stroke-width="1.4"/>
<path d="M405.8 330.5H408.5 M405.8 340.9H408.5 M405.8 355.4H408.5 M405.8 366.6H408.5 M405.8 377.5H408.5 M405.8 391.4H408.5 M405.8 403H408.5 M405.8 413.7H408.5 M413.4 418.6V421.3 M447.1 418.6V421.3 M480.8 418.6V421.3" stroke="#2a2a2a" stroke-width="1" fill="none"/>
<text transform="translate(402 333.25) scale(0.890 1)" text-anchor="end" style="font-family:'Liberation Sans', sans-serif;font-size:9.5px;fill:#1a1a1a;font-weight:normal;stroke:#1a1a1a;stroke-width:0.18px" >5000</text><text transform="translate(402 343.65) scale(0.890 1)" text-anchor="end" style="font-family:'Liberation Sans', sans-serif;font-size:9.5px;fill:#1a1a1a;font-weight:normal;stroke:#1a1a1a;stroke-width:0.18px" >2500</text><text transform="translate(402 358.15) scale(0.890 1)" text-anchor="end" style="font-family:'Liberation Sans', sans-serif;font-size:9.5px;fill:#1a1a1a;font-weight:normal;stroke:#1a1a1a;stroke-width:0.18px" >1000</text><text transform="translate(402 369.35) scale(0.890 1)" text-anchor="end" style="font-family:'Liberation Sans', sans-serif;font-size:9.5px;fill:#1a1a1a;font-weight:normal;stroke:#1a1a1a;stroke-width:0.18px" >500</text><text transform="translate(402 380.25) scale(0.890 1)" text-anchor="end" style="font-family:'Liberation Sans', sans-serif;font-size:9.5px;fill:#1a1a1a;font-weight:normal;stroke:#1a1a1a;stroke-width:0.18px" >250</text><text transform="translate(402 394.15) scale(0.890 1)" text-anchor="end" style="font-family:'Liberation Sans', sans-serif;font-size:9.5px;fill:#1a1a1a;font-weight:normal;stroke:#1a1a1a;stroke-width:0.18px" >100</text><text transform="translate(402 405.75) scale(0.890 1)" text-anchor="end" style="font-family:'Liberation Sans', sans-serif;font-size:9.5px;fill:#1a1a1a;font-weight:normal;stroke:#1a1a1a;stroke-width:0.18px" >50</text><text transform="translate(402 416.45) scale(0.890 1)" text-anchor="end" style="font-family:'Liberation Sans', sans-serif;font-size:9.5px;fill:#1a1a1a;font-weight:normal;stroke:#1a1a1a;stroke-width:0.18px" >25</text><text transform="translate(413.4 431.7) scale(0.870 1)" text-anchor="middle" style="font-family:'Liberation Sans', sans-serif;font-size:9.5px;fill:#1a1a1a;font-weight:normal;stroke:#1a1a1a;stroke-width:0.18px" >0.0</text><text transform="translate(447.1 431.7) scale(0.870 1)" text-anchor="middle" style="font-family:'Liberation Sans', sans-serif;font-size:9.5px;fill:#1a1a1a;font-weight:normal;stroke:#1a1a1a;stroke-width:0.18px" >0.2</text><text transform="translate(480.8 431.7) scale(0.870 1)" text-anchor="middle" style="font-family:'Liberation Sans', sans-serif;font-size:9.5px;fill:#1a1a1a;font-weight:normal;stroke:#1a1a1a;stroke-width:0.18px" >0.4</text>
<text transform="translate(458.75 446.9) scale(0.820 1)" text-anchor="middle" style="font-family:'Liberation Sans', sans-serif;font-size:10px;fill:#1a1a1a;font-weight:normal;stroke:#1a1a1a;stroke-width:0.18px" >Density</text>
<defs><clipPath id="cbC"><path d="M413.6 330.3 L413.6 330.3 C413.67 330.73 413.77 332.13 414 332.9 C414.23 333.67 414.5 334.18 415 334.9 C415.5 335.62 416.33 336.43 417 337.2 C417.67 337.97 418.33 338.73 419 339.5 C419.67 340.27 420.33 341.2 421 341.8 C421.67 342.4 422.17 342.67 423 343.1 C423.83 343.53 424.83 343.9 426 344.4 C427.17 344.9 428.83 345.47 430 346.1 C431.17 346.73 432.17 347.42 433 348.2 C433.83 348.98 434.33 350.05 435 350.8 C435.67 351.55 436.17 352.17 437 352.7 C437.83 353.23 437.83 353.45 440 354 C442.17 354.55 445.83 355.3 450 356 C454.17 356.7 461.67 357.7 465 358.2 C468.33 358.7 465.83 358.22 470 359 C474.17 359.78 485 361.95 490 362.9 C495 363.85 497.72 364.03 500 364.7 C502.28 365.37 504.53 366.23 503.7 366.9 C502.87 367.57 497.78 368.23 495 368.7 C492.22 369.17 489.83 369.42 487 369.7 C484.17 369.98 480.83 369.95 478 370.4 C475.17 370.85 472.17 371.88 470 372.4 C467.83 372.92 468.33 372.92 465 373.5 C461.67 374.08 454.17 375.2 450 375.9 C445.83 376.6 443.33 377 440 377.7 C436.67 378.4 432.5 379.4 430 380.1 C427.5 380.8 426.67 381.18 425 381.9 C423.33 382.62 421.5 383.48 420 384.4 C418.5 385.32 417.07 386.4 416 387.4 C414.93 388.4 414 389.9 413.6 390.4 L413.6 390.4 Z"/></clipPath></defs>
<path d="M413.6 347.6 L413.6 347.6 C414.33 347.85 416.6 348.58 418 349.1 C419.4 349.62 420.67 350.18 422 350.7 C423.33 351.22 424.67 351.68 426 352.2 C427.33 352.72 428.5 353.13 430 353.8 C431.5 354.47 433.33 355.53 435 356.2 C436.67 356.87 437.5 357.13 440 357.8 C442.5 358.47 446.67 359.4 450 360.2 C453.33 361 456.67 361.73 460 362.6 C463.33 363.47 466.67 364.5 470 365.4 C473.33 366.3 477.17 367.22 480 368 C482.83 368.78 486.17 369.42 487 370.1 C487.83 370.78 485.83 371.28 485 372.1 C484.17 372.92 483.17 374.13 482 375 C480.83 375.87 480 376.72 478 377.3 C476 377.88 473 378.02 470 378.5 C467 378.98 463.33 379.58 460 380.2 C456.67 380.82 453.33 381.4 450 382.2 C446.67 383 443.33 384.03 440 385 C436.67 385.97 432.5 387.2 430 388 C427.5 388.8 426.67 389.1 425 389.8 C423.33 390.5 421.17 391.4 420 392.2 C418.83 393 418.4 393.68 418 394.6 C417.6 395.52 417.43 396.58 417.6 397.7 C417.77 398.82 418.7 400.35 419 401.3 C419.3 402.25 419.57 402.7 419.4 403.4 C419.23 404.1 418.73 404.73 418 405.5 C417.27 406.27 415.73 407.18 415 408 C414.27 408.82 413.83 410 413.6 410.4 L413.6 410.4 Z" fill="#f8dc78"/>
<path d="M413.6 330.3 L413.6 330.3 C413.67 330.73 413.77 332.13 414 332.9 C414.23 333.67 414.5 334.18 415 334.9 C415.5 335.62 416.33 336.43 417 337.2 C417.67 337.97 418.33 338.73 419 339.5 C419.67 340.27 420.33 341.2 421 341.8 C421.67 342.4 422.17 342.67 423 343.1 C423.83 343.53 424.83 343.9 426 344.4 C427.17 344.9 428.83 345.47 430 346.1 C431.17 346.73 432.17 347.42 433 348.2 C433.83 348.98 434.33 350.05 435 350.8 C435.67 351.55 436.17 352.17 437 352.7 C437.83 353.23 437.83 353.45 440 354 C442.17 354.55 445.83 355.3 450 356 C454.17 356.7 461.67 357.7 465 358.2 C468.33 358.7 465.83 358.22 470 359 C474.17 359.78 485 361.95 490 362.9 C495 363.85 497.72 364.03 500 364.7 C502.28 365.37 504.53 366.23 503.7 366.9 C502.87 367.57 497.78 368.23 495 368.7 C492.22 369.17 489.83 369.42 487 369.7 C484.17 369.98 480.83 369.95 478 370.4 C475.17 370.85 472.17 371.88 470 372.4 C467.83 372.92 468.33 372.92 465 373.5 C461.67 374.08 454.17 375.2 450 375.9 C445.83 376.6 443.33 377 440 377.7 C436.67 378.4 432.5 379.4 430 380.1 C427.5 380.8 426.67 381.18 425 381.9 C423.33 382.62 421.5 383.48 420 384.4 C418.5 385.32 417.07 386.4 416 387.4 C414.93 388.4 414 389.9 413.6 390.4 L413.6 390.4 Z" fill="#76b4e2"/>
<path d="M413.6 347.6 L413.6 347.6 C414.33 347.85 416.6 348.58 418 349.1 C419.4 349.62 420.67 350.18 422 350.7 C423.33 351.22 424.67 351.68 426 352.2 C427.33 352.72 428.5 353.13 430 353.8 C431.5 354.47 433.33 355.53 435 356.2 C436.67 356.87 437.5 357.13 440 357.8 C442.5 358.47 446.67 359.4 450 360.2 C453.33 361 456.67 361.73 460 362.6 C463.33 363.47 466.67 364.5 470 365.4 C473.33 366.3 477.17 367.22 480 368 C482.83 368.78 486.17 369.42 487 370.1 C487.83 370.78 485.83 371.28 485 372.1 C484.17 372.92 483.17 374.13 482 375 C480.83 375.87 480 376.72 478 377.3 C476 377.88 473 378.02 470 378.5 C467 378.98 463.33 379.58 460 380.2 C456.67 380.82 453.33 381.4 450 382.2 C446.67 383 443.33 384.03 440 385 C436.67 385.97 432.5 387.2 430 388 C427.5 388.8 426.67 389.1 425 389.8 C423.33 390.5 421.17 391.4 420 392.2 C418.83 393 418.4 393.68 418 394.6 C417.6 395.52 417.43 396.58 417.6 397.7 C417.77 398.82 418.7 400.35 419 401.3 C419.3 402.25 419.57 402.7 419.4 403.4 C419.23 404.1 418.73 404.73 418 405.5 C417.27 406.27 415.73 407.18 415 408 C414.27 408.82 413.83 410 413.6 410.4 L413.6 410.4 Z" fill="#79a46f" clip-path="url(#cbC)"/>
<path d="M413.6 347.6 L413.6 347.6 C414.33 347.85 416.6 348.58 418 349.1 C419.4 349.62 420.67 350.18 422 350.7 C423.33 351.22 424.67 351.68 426 352.2 C427.33 352.72 428.5 353.13 430 353.8 C431.5 354.47 433.33 355.53 435 356.2 C436.67 356.87 437.5 357.13 440 357.8 C442.5 358.47 446.67 359.4 450 360.2 C453.33 361 456.67 361.73 460 362.6 C463.33 363.47 466.67 364.5 470 365.4 C473.33 366.3 477.17 367.22 480 368 C482.83 368.78 486.17 369.42 487 370.1 C487.83 370.78 485.83 371.28 485 372.1 C484.17 372.92 483.17 374.13 482 375 C480.83 375.87 480 376.72 478 377.3 C476 377.88 473 378.02 470 378.5 C467 378.98 463.33 379.58 460 380.2 C456.67 380.82 453.33 381.4 450 382.2 C446.67 383 443.33 384.03 440 385 C436.67 385.97 432.5 387.2 430 388 C427.5 388.8 426.67 389.1 425 389.8 C423.33 390.5 421.17 391.4 420 392.2 C418.83 393 418.4 393.68 418 394.6 C417.6 395.52 417.43 396.58 417.6 397.7 C417.77 398.82 418.7 400.35 419 401.3 C419.3 402.25 419.57 402.7 419.4 403.4 C419.23 404.1 418.73 404.73 418 405.5 C417.27 406.27 415.73 407.18 415 408 C414.27 408.82 413.83 410 413.6 410.4 L413.6 410.4 Z" fill="none" stroke="#111" stroke-width="1" stroke-linejoin="round"/>
<path d="M413.6 330.3 L413.6 330.3 C413.67 330.73 413.77 332.13 414 332.9 C414.23 333.67 414.5 334.18 415 334.9 C415.5 335.62 416.33 336.43 417 337.2 C417.67 337.97 418.33 338.73 419 339.5 C419.67 340.27 420.33 341.2 421 341.8 C421.67 342.4 422.17 342.67 423 343.1 C423.83 343.53 424.83 343.9 426 344.4 C427.17 344.9 428.83 345.47 430 346.1 C431.17 346.73 432.17 347.42 433 348.2 C433.83 348.98 434.33 350.05 435 350.8 C435.67 351.55 436.17 352.17 437 352.7 C437.83 353.23 437.83 353.45 440 354 C442.17 354.55 445.83 355.3 450 356 C454.17 356.7 461.67 357.7 465 358.2 C468.33 358.7 465.83 358.22 470 359 C474.17 359.78 485 361.95 490 362.9 C495 363.85 497.72 364.03 500 364.7 C502.28 365.37 504.53 366.23 503.7 366.9 C502.87 367.57 497.78 368.23 495 368.7 C492.22 369.17 489.83 369.42 487 369.7 C484.17 369.98 480.83 369.95 478 370.4 C475.17 370.85 472.17 371.88 470 372.4 C467.83 372.92 468.33 372.92 465 373.5 C461.67 374.08 454.17 375.2 450 375.9 C445.83 376.6 443.33 377 440 377.7 C436.67 378.4 432.5 379.4 430 380.1 C427.5 380.8 426.67 381.18 425 381.9 C423.33 382.62 421.5 383.48 420 384.4 C418.5 385.32 417.07 386.4 416 387.4 C414.93 388.4 414 389.9 413.6 390.4 L413.6 390.4 Z" fill="none" stroke="#111" stroke-width="1" stroke-linejoin="round"/>
<path d="M413.6 330.3 V414" stroke="#111" stroke-width="1.1"/>
<circle cx="215.6" cy="33.5" r="2.45" fill="#4a8fd6" stroke="#3a72bb" stroke-width="0.6"/>
<circle cx="215.6" cy="43.4" r="2.45" fill="#f7c316" stroke="#8c8a4a" stroke-width="0.6"/>
<text transform="translate(221.9 36.75) scale(0.900 1)" text-anchor="start" style="font-family:'Liberation Sans', sans-serif;font-size:9px;fill:#1a1a1a;font-weight:normal;stroke:#1a1a1a;stroke-width:0px" >Visit 2</text>
<text transform="translate(221.9 46.75) scale(0.900 1)" text-anchor="start" style="font-family:'Liberation Sans', sans-serif;font-size:9px;fill:#1a1a1a;font-weight:normal;stroke:#1a1a1a;stroke-width:0px" >Visit 3</text>
<rect x="0" y="0" width="1.1" height="455" fill="#000"/>
<rect x="0" y="0" width="520" height="1.2" fill="#000"/>
<rect x="518.7" y="0" width="1.3" height="455" fill="#000"/>
<rect x="0" y="453.6" width="520" height="1.4" fill="#000"/>
</svg></body></html>
